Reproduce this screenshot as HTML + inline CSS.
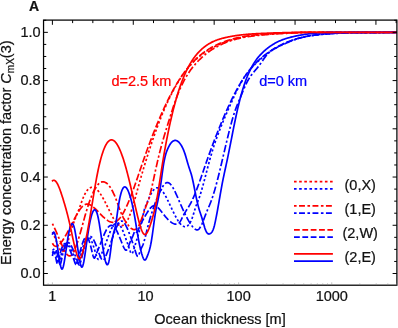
<!DOCTYPE html>
<html><head><meta charset="utf-8"><title>Energy concentration factor</title>
<style>
html,body{margin:0;padding:0;background:#fff;}
body{width:398px;height:328px;overflow:hidden;position:relative;font-family:"Liberation Sans",sans-serif;}
</style></head><body>
<svg width="398" height="328" viewBox="0 0 398 328" style="position:absolute;left:0;top:0;transform:translateZ(0);will-change:transform">
<rect width="398" height="328" fill="#fff"/>
<defs><clipPath id="cp"><rect x="43.5" y="20.1" width="353.3" height="265.1"/></clipPath></defs>
<g clip-path="url(#cp)" fill="none" stroke-width="1.7" stroke-linejoin="round">
<path d="M52.40,253.00 L52.90,252.03 L53.40,251.23 L53.90,250.70 L54.40,250.55 L54.90,250.89 L55.40,251.82 L55.90,253.35 L56.40,255.34 L56.90,257.56 L57.40,259.83 L57.90,261.93 L58.40,263.42 L58.90,263.76 L59.40,262.83 L59.90,261.10 L60.40,258.96 L60.90,256.61 L61.40,254.22 L61.90,251.97 L62.40,250.00 L62.90,248.30 L63.40,246.86 L63.90,245.68 L64.40,244.74 L64.90,244.02 L65.40,243.52 L65.90,243.22 L66.40,243.11 L66.90,243.18 L67.40,243.41 L67.90,243.79 L68.40,244.31 L68.90,244.95 L69.40,245.71 L69.90,246.57 L70.40,247.52 L70.90,248.54 L71.40,249.63 L71.90,250.79 L72.40,252.00 L72.90,253.27 L73.40,254.57 L73.90,255.92 L74.40,257.29 L74.90,258.69 L75.40,260.08 L75.90,261.43 L76.40,262.70 L76.90,263.84 L77.40,264.66 L77.90,264.70 L78.40,263.77 L78.90,262.26 L79.40,260.55 L79.90,258.73 L80.40,256.82 L80.90,254.87 L81.40,252.90 L81.90,250.94 L82.40,249.04 L82.90,247.22 L83.40,245.51 L83.90,243.93 L84.40,242.48 L84.90,241.19 L85.40,240.05 L85.90,239.08 L86.40,238.29 L86.90,237.69 L87.40,237.27 L87.90,237.06 L88.40,237.04 L88.90,237.20 L89.40,237.55 L89.90,238.06 L90.40,238.75 L90.90,239.59 L91.40,240.60 L91.90,241.75 L92.40,243.03 L92.90,244.42 L93.40,245.91 L93.90,247.47 L94.40,249.08 L94.90,250.73 L95.40,252.39 L95.90,254.05 L96.40,255.65 L96.90,257.11 L97.40,258.30 L97.90,259.12 L98.40,259.46 L98.90,259.26 L99.40,258.63 L99.90,257.69 L100.40,256.56 L100.90,255.36 L101.40,254.17 L101.90,252.99 L102.40,251.81 L102.90,250.62 L103.40,249.43 L103.90,248.21 L104.40,246.97 L104.90,245.70 L105.40,244.40 L105.90,243.07 L106.40,241.71 L106.90,240.34 L107.40,238.97 L107.90,237.60 L108.40,236.24 L108.90,234.91 L109.40,233.60 L109.90,232.34 L110.40,231.13 L110.90,229.97 L111.40,228.88 L111.90,227.87 L112.40,226.94 L112.90,226.10 L113.40,225.37 L113.90,224.74 L114.40,224.22 L114.90,223.80 L115.40,223.48 L115.90,223.26 L116.40,223.15 L116.90,223.14 L117.40,223.24 L117.90,223.43 L118.40,223.73 L118.90,224.13 L119.40,224.63 L119.90,225.23 L120.40,225.94 L120.90,226.74 L121.40,227.64 L121.90,228.64 L122.40,229.73 L122.90,230.89 L123.40,232.12 L123.90,233.39 L124.40,234.72 L124.90,236.07 L125.40,237.45 L125.90,238.84 L126.40,240.25 L126.90,241.66 L127.40,243.09 L127.90,244.53 L128.40,245.98 L128.90,247.44 L129.40,248.92 L129.90,250.39 L130.40,251.78 L130.90,252.90 L131.40,253.58 L131.90,253.66 L132.40,253.11 L132.90,252.07 L133.40,250.71 L133.90,249.18 L134.40,247.58 L134.90,245.93 L135.40,244.25 L135.90,242.55 L136.40,240.85 L136.90,239.15 L137.40,237.47 L137.90,235.84 L138.40,234.23 L138.90,232.63 L139.40,231.01 L139.90,229.32 L140.40,227.53 L140.90,225.60 L141.40,223.51 L141.90,221.22 L142.40,218.73 L142.90,216.18 L143.40,213.71 L143.90,211.45 L144.40,209.51 L144.90,207.90 L145.40,206.51 L145.90,205.29 L146.40,204.13 L146.90,202.99 L147.40,201.82 L147.90,200.66 L148.40,199.50 L148.90,198.35 L149.40,197.23 L149.90,196.15 L150.40,195.10 L150.90,194.11 L151.40,193.18 L151.90,192.33 L152.40,191.54 L152.90,190.84 L153.40,190.20 L153.90,189.64 L154.40,189.16 L154.90,188.74 L155.40,188.40 L155.90,188.14 L156.40,187.94 L156.90,187.82 L157.40,187.77 L157.90,187.79 L158.40,187.88 L158.90,188.04 L159.40,188.28 L159.90,188.58 L160.40,188.95 L160.90,189.39 L161.40,189.90 L161.90,190.46 L162.40,191.07 L162.90,191.74 L163.40,192.46 L163.90,193.23 L164.40,194.04 L164.90,194.88 L165.40,195.77 L165.90,196.68 L166.40,197.63 L166.90,198.60 L167.40,199.60 L167.90,200.61 L168.40,201.64 L168.90,202.68 L169.40,203.73 L169.90,204.79 L170.40,205.85 L170.90,206.91 L171.40,207.97 L171.90,209.02 L172.40,210.07 L172.90,211.11 L173.40,212.13 L173.90,213.14 L174.40,214.13 L174.90,215.11 L175.40,216.06 L175.90,216.99 L176.40,217.89 L176.90,218.76 L177.40,219.60 L177.90,220.41 L178.40,221.18 L178.90,221.91 L179.40,222.60 L179.90,223.24 L180.40,223.84 L180.90,224.39 L181.40,224.89 L181.90,225.34 L182.40,225.73 L182.90,226.06 L183.40,226.33 L183.90,226.53 L184.40,226.67 L184.90,226.74 L185.40,226.73 L185.90,226.65 L186.40,226.49 L186.90,226.25 L187.40,225.92 L187.90,225.51 L188.40,225.00 L188.90,224.40 L189.40,223.71 L189.90,222.92 L190.40,222.02 L190.90,221.02 L191.40,219.92 L191.90,218.70 L192.40,217.37 L192.90,215.93 L193.40,214.37 L193.90,212.74 L194.40,211.08 L194.90,209.43 L195.40,207.83 L195.90,206.33 L196.40,204.97 L196.90,203.71 L197.40,202.51 L197.90,201.30 L198.40,200.04 L198.90,198.69 L199.40,197.27 L199.90,195.79 L200.40,194.23 L200.90,192.62 L201.40,190.96 L201.90,189.25 L202.40,187.49 L202.90,185.70 L203.40,183.87 L203.90,182.01 L204.40,180.13 L204.90,178.23 L205.40,176.32 L205.90,174.40 L206.40,172.48 L206.90,170.56 L207.40,168.64 L207.90,166.74 L208.40,164.86 L208.90,162.99 L209.40,161.16 L209.90,159.35 L210.40,157.58 L210.90,155.85 L211.40,154.15 L211.90,152.48 L212.40,150.84 L212.90,149.23 L213.40,147.65 L213.90,146.10 L214.40,144.57 L214.90,143.07 L215.40,141.60 L215.90,140.15 L216.40,138.73 L216.90,137.33 L217.40,135.95 L217.90,134.59 L218.40,133.25 L218.90,131.93 L219.40,130.63 L219.90,129.34 L220.40,128.07 L220.90,126.82 L221.40,125.58 L221.90,124.36 L222.40,123.14 L222.90,121.94 L223.40,120.75 L223.90,119.56 L224.40,118.39 L224.90,117.23 L225.40,116.07 L225.90,114.91 L226.40,113.76 L226.90,112.62 L227.40,111.48 L227.90,110.34 L228.40,109.20 L228.90,108.06 L229.40,106.93 L229.90,105.79 L230.40,104.66 L230.90,103.54 L231.40,102.42 L231.90,101.30 L232.40,100.19 L232.90,99.08 L233.40,97.99 L233.90,96.90 L234.40,95.82 L234.90,94.75 L235.40,93.68 L235.90,92.63 L236.40,91.60 L236.90,90.57 L237.40,89.56 L237.90,88.56 L238.40,87.58 L238.90,86.61 L239.40,85.65 L239.90,84.72 L240.40,83.80 L240.90,82.90 L241.40,82.01 L241.90,81.15 L242.40,80.31 L242.90,79.49 L243.40,78.68 L243.90,77.90 L244.40,77.13 L244.90,76.38 L245.40,75.65 L245.90,74.94 L246.40,74.24 L246.90,73.56 L247.40,72.89 L247.90,72.24 L248.40,71.60 L248.90,70.98 L249.40,70.37 L249.90,69.77 L250.40,69.18 L250.90,68.61 L251.40,68.04 L251.90,67.49 L252.40,66.94 L252.90,66.41 L253.40,65.88 L253.90,65.36 L254.40,64.85 L254.90,64.35 L255.40,63.85 L255.90,63.36 L256.40,62.88 L256.90,62.40 L257.40,61.93 L257.90,61.46 L258.40,61.00 L258.90,60.54 L259.40,60.09 L259.90,59.64 L260.40,59.20 L260.90,58.76 L261.40,58.33 L261.90,57.91 L262.40,57.49 L262.90,57.07 L263.40,56.66 L263.90,56.25 L264.40,55.85 L264.90,55.46 L265.40,55.07 L265.90,54.68 L266.40,54.30 L266.90,53.92 L267.40,53.55 L267.90,53.19 L268.40,52.82 L268.90,52.47 L269.40,52.11 L269.90,51.77 L270.40,51.42 L270.90,51.08 L271.40,50.75 L271.90,50.42 L272.40,50.09 L272.90,49.77 L273.40,49.45 L273.90,49.14 L274.40,48.83 L274.90,48.53 L275.40,48.23 L275.90,47.94 L276.40,47.64 L276.90,47.36 L277.40,47.07 L277.90,46.80 L278.40,46.52 L278.90,46.25 L279.40,45.98 L279.90,45.72 L280.40,45.46 L280.90,45.21 L281.40,44.95 L281.90,44.71 L282.40,44.46 L282.90,44.22 L283.40,43.99 L283.90,43.75 L284.40,43.52 L284.90,43.30 L285.40,43.08 L285.90,42.86 L286.40,42.64 L286.90,42.43 L287.40,42.23 L287.90,42.02 L288.40,41.82 L288.90,41.62 L289.40,41.43 L289.90,41.24 L290.40,41.05 L290.90,40.86 L291.40,40.68 L291.90,40.50 L292.40,40.33 L292.90,40.15 L293.40,39.99 L293.90,39.82 L294.40,39.66 L294.90,39.50 L295.40,39.34 L295.90,39.18 L296.40,39.03 L296.90,38.88 L297.40,38.74 L297.90,38.59 L298.40,38.45 L298.90,38.31 L299.40,38.18 L299.90,38.04 L300.40,37.91 L300.90,37.79 L301.40,37.66 L301.90,37.54 L302.40,37.42 L302.90,37.30 L303.40,37.18 L303.90,37.07 L304.40,36.96 L304.90,36.85 L305.40,36.74 L305.90,36.64 L306.40,36.53 L306.90,36.43 L307.40,36.34 L307.90,36.24 L308.40,36.14 L308.90,36.05 L309.40,35.96 L309.90,35.87 L310.40,35.79 L310.90,35.70 L311.40,35.62 L311.90,35.54 L312.40,35.46 L312.90,35.38 L313.40,35.31 L313.90,35.23 L314.40,35.16 L314.90,35.09 L315.40,35.02 L315.90,34.95 L316.40,34.88 L316.90,34.82 L317.40,34.76 L317.90,34.69 L318.40,34.63 L318.90,34.57 L319.40,34.51 L319.90,34.46 L320.40,34.40 L320.90,34.35 L321.40,34.29 L321.90,34.24 L322.40,34.19 L322.90,34.14 L323.40,34.09 L323.90,34.04 L324.40,34.00 L324.90,33.95 L325.40,33.90 L325.90,33.86 L326.40,33.82 L326.90,33.78 L327.40,33.74 L327.90,33.70 L328.40,33.66 L328.90,33.62 L329.40,33.58 L329.90,33.55 L330.40,33.51 L330.90,33.48 L331.40,33.44 L331.90,33.41 L332.40,33.38 L332.90,33.35 L333.40,33.32 L333.90,33.29 L334.40,33.26 L334.90,33.23 L335.40,33.21 L335.90,33.18 L336.40,33.16 L336.90,33.13 L337.40,33.11 L337.90,33.09 L338.40,33.06 L338.90,33.04 L339.40,33.02 L339.90,33.00 L340.40,32.98 L340.90,32.96 L341.40,32.95 L341.90,32.93 L342.40,32.91 L342.90,32.90 L343.40,32.88 L343.90,32.87 L344.40,32.85 L344.90,32.84 L345.40,32.83 L345.90,32.81 L346.40,32.80 L346.90,32.79 L347.40,32.78 L347.90,32.77 L348.40,32.76 L348.90,32.75 L349.40,32.74 L349.90,32.73 L350.40,32.72 L350.90,32.71 L351.40,32.71 L351.90,32.70 L352.40,32.69 L352.90,32.69 L353.40,32.68 L353.90,32.68 L354.40,32.67 L354.90,32.67 L355.40,32.66 L355.90,32.66 L356.40,32.65 L356.90,32.65 L357.40,32.65 L357.90,32.64 L358.40,32.64 L358.90,32.64 L359.40,32.64 L359.90,32.63 L360.40,32.63 L360.90,32.63 L361.40,32.63 L361.90,32.63 L362.40,32.63 L362.90,32.62 L363.40,32.62 L363.90,32.62 L364.40,32.62 L364.90,32.62 L365.40,32.62 L365.90,32.62 L366.40,32.62 L366.90,32.62 L367.40,32.62 L367.90,32.62 L368.40,32.62 L368.90,32.62 L369.40,32.62 L369.90,32.62 L370.40,32.62 L370.90,32.62 L371.40,32.61 L371.90,32.61 L372.40,32.61 L372.90,32.61 L373.40,32.61 L373.90,32.61 L374.40,32.61 L374.90,32.61 L375.40,32.61 L375.90,32.60 L376.40,32.60 L376.90,32.60 L377.40,32.60 L377.90,32.59 L378.40,32.59 L378.90,32.59 L379.40,32.59 L379.90,32.58 L380.40,32.58 L380.90,32.57 L381.40,32.57 L381.90,32.56 L382.40,32.56 L382.90,32.55 L383.40,32.55 L383.90,32.54 L384.40,32.53 L384.90,32.53 L385.40,32.52 L385.90,32.51 L386.40,32.50 L386.90,32.50 L387.40,32.49 L387.90,32.48 L388.40,32.47 L388.90,32.46 L389.40,32.44 L389.90,32.43 L390.40,32.42 L390.90,32.41 L391.40,32.39 L391.90,32.38 L392.40,32.37 L392.90,32.35 L393.40,32.35 L393.90,32.35 L394.40,32.35 L394.90,32.35 L395.40,32.35 L395.90,32.35 L396.40,32.35 L396.90,32.35" stroke="#0000ff" stroke-dasharray="2.2 2.2"/>
<path d="M52.40,232.15 L52.90,233.07 L53.40,234.10 L53.90,235.21 L54.40,236.40 L54.90,237.63 L55.40,238.91 L55.90,240.20 L56.40,241.50 L56.90,242.79 L57.40,244.05 L57.90,245.26 L58.40,246.42 L58.90,247.49 L59.40,248.48 L59.90,249.35 L60.40,250.10 L60.90,250.71 L61.40,251.15 L61.90,251.42 L62.40,251.50 L62.90,251.38 L63.40,251.05 L63.90,250.54 L64.40,249.85 L64.90,249.01 L65.40,248.02 L65.90,246.89 L66.40,245.65 L66.90,244.30 L67.40,242.87 L67.90,241.35 L68.40,239.78 L68.90,238.15 L69.40,236.48 L69.90,234.80 L70.40,233.10 L70.90,231.41 L71.40,229.74 L71.90,228.10 L72.40,226.50 L72.90,224.97 L73.40,223.50 L73.90,222.11 L74.40,220.78 L74.90,219.50 L75.40,218.25 L75.90,217.02 L76.40,215.81 L76.90,214.60 L77.40,213.37 L77.90,212.12 L78.40,210.84 L78.90,209.51 L79.40,208.14 L79.90,206.75 L80.40,205.34 L80.90,203.93 L81.40,202.52 L81.90,201.14 L82.40,199.80 L82.90,198.50 L83.40,197.27 L83.90,196.10 L84.40,195.02 L84.90,194.02 L85.40,193.10 L85.90,192.25 L86.40,191.47 L86.90,190.77 L87.40,190.13 L87.90,189.56 L88.40,189.06 L88.90,188.62 L89.40,188.24 L89.90,187.92 L90.40,187.66 L90.90,187.46 L91.40,187.33 L91.90,187.25 L92.40,187.23 L92.90,187.27 L93.40,187.37 L93.90,187.53 L94.40,187.74 L94.90,188.00 L95.40,188.31 L95.90,188.68 L96.40,189.09 L96.90,189.54 L97.40,190.04 L97.90,190.59 L98.40,191.17 L98.90,191.79 L99.40,192.45 L99.90,193.14 L100.40,193.87 L100.90,194.63 L101.40,195.42 L101.90,196.24 L102.40,197.09 L102.90,197.96 L103.40,198.85 L103.90,199.77 L104.40,200.71 L104.90,201.66 L105.40,202.63 L105.90,203.62 L106.40,204.62 L106.90,205.63 L107.40,206.65 L107.90,207.67 L108.40,208.69 L108.90,209.72 L109.40,210.74 L109.90,211.75 L110.40,212.75 L110.90,213.74 L111.40,214.71 L111.90,215.66 L112.40,216.58 L112.90,217.48 L113.40,218.36 L113.90,219.19 L114.40,220.00 L114.90,220.76 L115.40,221.48 L115.90,222.15 L116.40,222.78 L116.90,223.36 L117.40,223.88 L117.90,224.34 L118.40,224.74 L118.90,225.08 L119.40,225.35 L119.90,225.56 L120.40,225.69 L120.90,225.77 L121.40,225.77 L121.90,225.70 L122.40,225.57 L122.90,225.37 L123.40,225.09 L123.90,224.75 L124.40,224.33 L124.90,223.84 L125.40,223.28 L125.90,222.64 L126.40,221.93 L126.90,221.14 L127.40,220.28 L127.90,219.34 L128.40,218.33 L128.90,217.24 L129.40,216.07 L129.90,214.82 L130.40,213.50 L130.90,212.11 L131.40,210.66 L131.90,209.14 L132.40,207.58 L132.90,205.97 L133.40,204.31 L133.90,202.61 L134.40,200.88 L134.90,199.13 L135.40,197.35 L135.90,195.55 L136.40,193.74 L136.90,191.92 L137.40,190.10 L137.90,188.28 L138.40,186.47 L138.90,184.67 L139.40,182.88 L139.90,181.10 L140.40,179.34 L140.90,177.59 L141.40,175.85 L141.90,174.12 L142.40,172.41 L142.90,170.71 L143.40,169.02 L143.90,167.34 L144.40,165.67 L144.90,164.02 L145.40,162.38 L145.90,160.75 L146.40,159.14 L146.90,157.54 L147.40,155.94 L147.90,154.37 L148.40,152.80 L148.90,151.25 L149.40,149.71 L149.90,148.18 L150.40,146.66 L150.90,145.16 L151.40,143.66 L151.90,142.18 L152.40,140.72 L152.90,139.26 L153.40,137.82 L153.90,136.39 L154.40,134.97 L154.90,133.57 L155.40,132.17 L155.90,130.79 L156.40,129.43 L156.90,128.07 L157.40,126.73 L157.90,125.40 L158.40,124.08 L158.90,122.77 L159.40,121.48 L159.90,120.20 L160.40,118.93 L160.90,117.67 L161.40,116.43 L161.90,115.20 L162.40,113.98 L162.90,112.77 L163.40,111.58 L163.90,110.40 L164.40,109.23 L164.90,108.07 L165.40,106.92 L165.90,105.79 L166.40,104.67 L166.90,103.57 L167.40,102.47 L167.90,101.39 L168.40,100.32 L168.90,99.26 L169.40,98.22 L169.90,97.18 L170.40,96.16 L170.90,95.16 L171.40,94.16 L171.90,93.18 L172.40,92.21 L172.90,91.25 L173.40,90.30 L173.90,89.37 L174.40,88.45 L174.90,87.54 L175.40,86.65 L175.90,85.76 L176.40,84.89 L176.90,84.04 L177.40,83.19 L177.90,82.36 L178.40,81.54 L178.90,80.73 L179.40,79.93 L179.90,79.14 L180.40,78.37 L180.90,77.61 L181.40,76.85 L181.90,76.11 L182.40,75.39 L182.90,74.67 L183.40,73.96 L183.90,73.27 L184.40,72.58 L184.90,71.91 L185.40,71.24 L185.90,70.59 L186.40,69.94 L186.90,69.31 L187.40,68.69 L187.90,68.07 L188.40,67.47 L188.90,66.88 L189.40,66.29 L189.90,65.72 L190.40,65.15 L190.90,64.60 L191.40,64.05 L191.90,63.51 L192.40,62.98 L192.90,62.46 L193.40,61.95 L193.90,61.44 L194.40,60.95 L194.90,60.46 L195.40,59.98 L195.90,59.51 L196.40,59.05 L196.90,58.59 L197.40,58.15 L197.90,57.71 L198.40,57.28 L198.90,56.85 L199.40,56.43 L199.90,56.02 L200.40,55.62 L200.90,55.22 L201.40,54.83 L201.90,54.45 L202.40,54.07 L202.90,53.70 L203.40,53.34 L203.90,52.98 L204.40,52.63 L204.90,52.28 L205.40,51.94 L205.90,51.61 L206.40,51.28 L206.90,50.96 L207.40,50.64 L207.90,50.33 L208.40,50.02 L208.90,49.72 L209.40,49.42 L209.90,49.13 L210.40,48.84 L210.90,48.56 L211.40,48.28 L211.90,48.01 L212.40,47.74 L212.90,47.47 L213.40,47.21 L213.90,46.95 L214.40,46.70 L214.90,46.45 L215.40,46.20 L215.90,45.96 L216.40,45.72 L216.90,45.48 L217.40,45.25 L217.90,45.02 L218.40,44.79 L218.90,44.57 L219.40,44.35 L219.90,44.13 L220.40,43.91 L220.90,43.70 L221.40,43.50 L221.90,43.29 L222.40,43.09 L222.90,42.89 L223.40,42.70 L223.90,42.51 L224.40,42.32 L224.90,42.13 L225.40,41.95 L225.90,41.77 L226.40,41.59 L226.90,41.42 L227.40,41.25 L227.90,41.08 L228.40,40.91 L228.90,40.75 L229.40,40.59 L229.90,40.43 L230.40,40.27 L230.90,40.12 L231.40,39.97 L231.90,39.82 L232.40,39.68 L232.90,39.54 L233.40,39.40 L233.90,39.26 L234.40,39.12 L234.90,38.99 L235.40,38.86 L235.90,38.73 L236.40,38.61 L236.90,38.48 L237.40,38.36 L237.90,38.24 L238.40,38.13 L238.90,38.01 L239.40,37.90 L239.90,37.79 L240.40,37.68 L240.90,37.57 L241.40,37.47 L241.90,37.37 L242.40,37.26 L242.90,37.17 L243.40,37.07 L243.90,36.97 L244.40,36.88 L244.90,36.79 L245.40,36.70 L245.90,36.61 L246.40,36.53 L246.90,36.44 L247.40,36.36 L247.90,36.28 L248.40,36.20 L248.90,36.12 L249.40,36.04 L249.90,35.97 L250.40,35.89 L250.90,35.82 L251.40,35.75 L251.90,35.68 L252.40,35.61 L252.90,35.55 L253.40,35.48 L253.90,35.42 L254.40,35.35 L254.90,35.29 L255.40,35.23 L255.90,35.17 L256.40,35.11 L256.90,35.06 L257.40,35.00 L257.90,34.95 L258.40,34.89 L258.90,34.84 L259.40,34.79 L259.90,34.73 L260.40,34.68 L260.90,34.63 L261.40,34.59 L261.90,34.54 L262.40,34.49 L262.90,34.44 L263.40,34.40 L263.90,34.35 L264.40,34.31 L264.90,34.27 L265.40,34.22 L265.90,34.18 L266.40,34.14 L266.90,34.10 L267.40,34.06 L267.90,34.02 L268.40,33.98 L268.90,33.94 L269.40,33.90 L269.90,33.86 L270.40,33.82 L270.90,33.79 L271.40,33.75 L271.90,33.71 L272.40,33.68 L272.90,33.64 L273.40,33.61 L273.90,33.58 L274.40,33.54 L274.90,33.51 L275.40,33.48 L275.90,33.45 L276.40,33.42 L276.90,33.39 L277.40,33.36 L277.90,33.33 L278.40,33.30 L278.90,33.27 L279.40,33.24 L279.90,33.21 L280.40,33.19 L280.90,33.16 L281.40,33.13 L281.90,33.11 L282.40,33.08 L282.90,33.06 L283.40,33.03 L283.90,33.01 L284.40,32.99 L284.90,32.96 L285.40,32.94 L285.90,32.92 L286.40,32.90 L286.90,32.88 L287.40,32.86 L287.90,32.84 L288.40,32.82 L288.90,32.80 L289.40,32.78 L289.90,32.76 L290.40,32.74 L290.90,32.72 L291.40,32.71 L291.90,32.69 L292.40,32.67 L292.90,32.66 L293.40,32.64 L293.90,32.63 L294.40,32.61 L294.90,32.60 L295.40,32.58 L295.90,32.57 L296.40,32.55 L296.90,32.54 L297.40,32.53 L297.90,32.52 L298.40,32.50 L298.90,32.49 L299.40,32.48 L299.90,32.47 L300.40,32.46 L300.90,32.45 L301.40,32.44 L301.90,32.43 L302.40,32.42 L302.90,32.41 L303.40,32.40 L303.90,32.39 L304.40,32.38 L304.90,32.38 L305.40,32.37 L305.90,32.36 L306.40,32.36 L306.90,32.35 L307.40,32.35 L307.90,32.35 L308.40,32.35 L308.90,32.35 L309.40,32.35 L309.90,32.35 L310.40,32.35 L310.90,32.35 L311.40,32.35 L311.90,32.35 L312.40,32.35 L312.90,32.35 L313.40,32.35 L313.90,32.35 L314.40,32.35 L314.90,32.35 L315.40,32.35 L315.90,32.35 L316.40,32.35 L316.90,32.35 L317.40,32.35 L317.90,32.35 L318.40,32.35 L318.90,32.35 L319.40,32.35 L319.90,32.35 L320.40,32.35 L320.90,32.35 L321.40,32.35 L321.90,32.35 L322.40,32.35 L322.90,32.35 L323.40,32.35 L323.90,32.35 L324.40,32.35 L324.90,32.35 L325.40,32.35 L325.90,32.35 L326.40,32.35 L326.90,32.35 L327.40,32.35 L327.90,32.35 L328.40,32.35 L328.90,32.35 L329.40,32.35 L329.90,32.35 L330.40,32.35 L330.90,32.35 L331.40,32.35 L331.90,32.35 L332.40,32.35 L332.90,32.35 L333.40,32.35 L333.90,32.35 L334.40,32.35 L334.90,32.35 L335.40,32.35 L335.90,32.35 L336.40,32.35 L336.90,32.35 L337.40,32.35 L337.90,32.35 L338.40,32.35 L338.90,32.35 L339.40,32.35 L339.90,32.35 L340.40,32.35 L340.90,32.35 L341.40,32.35 L341.90,32.35 L342.40,32.35 L342.90,32.35 L343.40,32.35 L343.90,32.35 L344.40,32.35 L344.90,32.35 L345.40,32.35 L345.90,32.35 L346.40,32.35 L346.90,32.35 L347.40,32.35 L347.90,32.35 L348.40,32.35 L348.90,32.35 L349.40,32.35 L349.90,32.35 L350.40,32.35 L350.90,32.35 L351.40,32.35 L351.90,32.35 L352.40,32.35 L352.90,32.35 L353.40,32.35 L353.90,32.35 L354.40,32.35 L354.90,32.35 L355.40,32.35 L355.90,32.35 L356.40,32.35 L356.90,32.35 L357.40,32.35 L357.90,32.35 L358.40,32.35 L358.90,32.35 L359.40,32.35 L359.90,32.35 L360.40,32.35 L360.90,32.35 L361.40,32.35 L361.90,32.35 L362.40,32.35 L362.90,32.35 L363.40,32.35 L363.90,32.35 L364.40,32.35 L364.90,32.35 L365.40,32.35 L365.90,32.35 L366.40,32.35 L366.90,32.35 L367.40,32.35 L367.90,32.35 L368.40,32.35 L368.90,32.35 L369.40,32.35 L369.90,32.35 L370.40,32.35 L370.90,32.35 L371.40,32.35 L371.90,32.35 L372.40,32.35 L372.90,32.35 L373.40,32.35 L373.90,32.35 L374.40,32.35 L374.90,32.35 L375.40,32.35 L375.90,32.35 L376.40,32.35 L376.90,32.35 L377.40,32.35 L377.90,32.35 L378.40,32.35 L378.90,32.35 L379.40,32.35 L379.90,32.35 L380.40,32.35 L380.90,32.35 L381.40,32.35 L381.90,32.35 L382.40,32.35 L382.90,32.35 L383.40,32.35 L383.90,32.35 L384.40,32.35 L384.90,32.35 L385.40,32.35 L385.90,32.35 L386.40,32.35 L386.90,32.35 L387.40,32.35 L387.90,32.35 L388.40,32.35 L388.90,32.35 L389.40,32.35 L389.90,32.35 L390.40,32.35 L390.90,32.35 L391.40,32.35 L391.90,32.35 L392.40,32.35 L392.90,32.35 L393.40,32.35 L393.90,32.35 L394.40,32.35 L394.90,32.35 L395.40,32.35 L395.90,32.35 L396.40,32.35 L396.90,32.35" stroke="#ff0000" stroke-dasharray="2.2 2.2"/>
<path d="M52.40,250.00 L52.90,249.83 L53.40,249.55 L53.90,249.25 L54.40,249.02 L54.90,248.97 L55.40,249.19 L55.90,249.77 L56.40,250.80 L56.90,252.28 L57.40,254.15 L57.90,256.38 L58.40,258.89 L58.90,261.35 L59.40,263.32 L59.90,264.36 L60.40,264.09 L60.90,262.69 L61.40,260.53 L61.90,258.03 L62.40,255.56 L62.90,253.32 L63.40,251.31 L63.90,249.52 L64.40,247.96 L64.90,246.61 L65.40,245.47 L65.90,244.53 L66.40,243.78 L66.90,243.23 L67.40,242.87 L67.90,242.69 L68.40,242.68 L68.90,242.84 L69.40,243.17 L69.90,243.65 L70.40,244.29 L70.90,245.08 L71.40,246.01 L71.90,247.05 L72.40,248.19 L72.90,249.41 L73.40,250.69 L73.90,252.00 L74.40,253.34 L74.90,254.68 L75.40,255.99 L75.90,257.31 L76.40,258.65 L76.90,260.03 L77.40,261.49 L77.90,262.93 L78.40,264.12 L78.90,264.85 L79.40,264.90 L79.90,264.16 L80.40,262.81 L80.90,261.04 L81.40,259.07 L81.90,257.06 L82.40,255.08 L82.90,253.13 L83.40,251.22 L83.90,249.36 L84.40,247.57 L84.90,245.85 L85.40,244.24 L85.90,242.73 L86.40,241.36 L86.90,240.13 L87.40,239.07 L87.90,238.18 L88.40,237.49 L88.90,236.99 L89.40,236.66 L89.90,236.51 L90.40,236.51 L90.90,236.67 L91.40,236.97 L91.90,237.41 L92.40,237.98 L92.90,238.67 L93.40,239.46 L93.90,240.36 L94.40,241.36 L94.90,242.44 L95.40,243.60 L95.90,244.83 L96.40,246.11 L96.90,247.45 L97.40,248.81 L97.90,250.19 L98.40,251.57 L98.90,252.94 L99.40,254.27 L99.90,255.56 L100.40,256.78 L100.90,257.92 L101.40,258.91 L101.90,259.69 L102.40,260.21 L102.90,260.39 L103.40,260.22 L103.90,259.72 L104.40,258.96 L104.90,258.01 L105.40,256.93 L105.90,255.79 L106.40,254.61 L106.90,253.38 L107.40,252.11 L107.90,250.81 L108.40,249.48 L108.90,248.13 L109.40,246.74 L109.90,245.34 L110.40,243.93 L110.90,242.50 L111.40,241.07 L111.90,239.63 L112.40,238.19 L112.90,236.76 L113.40,235.34 L113.90,233.94 L114.40,232.56 L114.90,231.20 L115.40,229.90 L115.90,228.64 L116.40,227.44 L116.90,226.31 L117.40,225.27 L117.90,224.32 L118.40,223.46 L118.90,222.72 L119.40,222.10 L119.90,221.61 L120.40,221.26 L120.90,221.06 L121.40,220.99 L121.90,221.05 L122.40,221.24 L122.90,221.55 L123.40,221.97 L123.90,222.50 L124.40,223.13 L124.90,223.86 L125.40,224.67 L125.90,225.57 L126.40,226.55 L126.90,227.59 L127.40,228.71 L127.90,229.88 L128.40,231.10 L128.90,232.37 L129.40,233.68 L129.90,235.02 L130.40,236.39 L130.90,237.80 L131.40,239.23 L131.90,240.68 L132.40,242.16 L132.90,243.66 L133.40,245.19 L133.90,246.73 L134.40,248.28 L134.90,249.83 L135.40,251.38 L135.90,252.90 L136.40,254.35 L136.90,255.54 L137.40,256.28 L137.90,256.40 L138.40,255.81 L138.90,254.69 L139.40,253.27 L139.90,251.76 L140.40,250.33 L140.90,249.09 L141.40,248.05 L141.90,247.11 L142.40,246.13 L142.90,244.98 L143.40,243.61 L143.90,242.04 L144.40,240.30 L144.90,238.43 L145.40,236.46 L145.90,234.43 L146.40,232.36 L146.90,230.31 L147.40,228.28 L147.90,226.32 L148.40,224.42 L148.90,222.58 L149.40,220.79 L149.90,219.05 L150.40,217.36 L150.90,215.71 L151.40,214.11 L151.90,212.55 L152.40,211.02 L152.90,209.52 L153.40,208.06 L153.90,206.62 L154.40,205.22 L154.90,203.84 L155.40,202.49 L155.90,201.18 L156.40,199.90 L156.90,198.64 L157.40,197.42 L157.90,196.24 L158.40,195.08 L158.90,193.96 L159.40,192.87 L159.90,191.82 L160.40,190.80 L160.90,189.82 L161.40,188.87 L161.90,187.97 L162.40,187.12 L162.90,186.32 L163.40,185.59 L163.90,184.92 L164.40,184.33 L164.90,183.81 L165.40,183.37 L165.90,183.02 L166.40,182.76 L166.90,182.60 L167.40,182.55 L167.90,182.60 L168.40,182.74 L168.90,182.98 L169.40,183.30 L169.90,183.71 L170.40,184.20 L170.90,184.76 L171.40,185.39 L171.90,186.09 L172.40,186.86 L172.90,187.67 L173.40,188.55 L173.90,189.47 L174.40,190.43 L174.90,191.44 L175.40,192.48 L175.90,193.55 L176.40,194.65 L176.90,195.76 L177.40,196.90 L177.90,198.05 L178.40,199.21 L178.90,200.38 L179.40,201.54 L179.90,202.70 L180.40,203.85 L180.90,205.00 L181.40,206.14 L181.90,207.26 L182.40,208.38 L182.90,209.48 L183.40,210.57 L183.90,211.65 L184.40,212.71 L184.90,213.75 L185.40,214.77 L185.90,215.78 L186.40,216.76 L186.90,217.72 L187.40,218.66 L187.90,219.57 L188.40,220.45 L188.90,221.31 L189.40,222.14 L189.90,222.94 L190.40,223.71 L190.90,224.45 L191.40,225.15 L191.90,225.82 L192.40,226.45 L192.90,227.05 L193.40,227.61 L193.90,228.12 L194.40,228.59 L194.90,229.00 L195.40,229.35 L195.90,229.62 L196.40,229.80 L196.90,229.88 L197.40,229.86 L197.90,229.73 L198.40,229.46 L198.90,229.07 L199.40,228.53 L199.90,227.85 L200.40,227.05 L200.90,226.14 L201.40,225.13 L201.90,224.04 L202.40,222.88 L202.90,221.66 L203.40,220.40 L203.90,219.10 L204.40,217.78 L204.90,216.46 L205.40,215.15 L205.90,213.86 L206.40,212.59 L206.90,211.37 L207.40,210.17 L207.90,208.99 L208.40,207.82 L208.90,206.65 L209.40,205.46 L209.90,204.25 L210.40,203.00 L210.90,201.72 L211.40,200.38 L211.90,198.98 L212.40,197.52 L212.90,196.00 L213.40,194.42 L213.90,192.80 L214.40,191.12 L214.90,189.40 L215.40,187.63 L215.90,185.82 L216.40,183.97 L216.90,182.08 L217.40,180.16 L217.90,178.21 L218.40,176.23 L218.90,174.22 L219.40,172.18 L219.90,170.13 L220.40,168.06 L220.90,165.96 L221.40,163.86 L221.90,161.75 L222.40,159.62 L222.90,157.49 L223.40,155.36 L223.90,153.22 L224.40,151.09 L224.90,148.96 L225.40,146.84 L225.90,144.73 L226.40,142.63 L226.90,140.54 L227.40,138.48 L227.90,136.43 L228.40,134.40 L228.90,132.40 L229.40,130.43 L229.90,128.48 L230.40,126.57 L230.90,124.70 L231.40,122.86 L231.90,121.06 L232.40,119.31 L232.90,117.60 L233.40,115.94 L233.90,114.33 L234.40,112.77 L234.90,111.27 L235.40,109.83 L235.90,108.44 L236.40,107.11 L236.90,105.82 L237.40,104.56 L237.90,103.33 L238.40,102.12 L238.90,100.92 L239.40,99.73 L239.90,98.53 L240.40,97.33 L240.90,96.11 L241.40,94.89 L241.90,93.66 L242.40,92.44 L242.90,91.22 L243.40,90.02 L243.90,88.83 L244.40,87.67 L244.90,86.54 L245.40,85.43 L245.90,84.37 L246.40,83.34 L246.90,82.36 L247.40,81.42 L247.90,80.52 L248.40,79.66 L248.90,78.83 L249.40,78.03 L249.90,77.27 L250.40,76.53 L250.90,75.81 L251.40,75.12 L251.90,74.45 L252.40,73.80 L252.90,73.16 L253.40,72.54 L253.90,71.92 L254.40,71.32 L254.90,70.72 L255.40,70.12 L255.90,69.53 L256.40,68.93 L256.90,68.34 L257.40,67.73 L257.90,67.12 L258.40,66.50 L258.90,65.86 L259.40,65.21 L259.90,64.54 L260.40,63.85 L260.90,63.15 L261.40,62.44 L261.90,61.72 L262.40,60.99 L262.90,60.26 L263.40,59.54 L263.90,58.82 L264.40,58.11 L264.90,57.41 L265.40,56.73 L265.90,56.07 L266.40,55.44 L266.90,54.83 L267.40,54.25 L267.90,53.71 L268.40,53.19 L268.90,52.70 L269.40,52.24 L269.90,51.81 L270.40,51.39 L270.90,51.00 L271.40,50.63 L271.90,50.28 L272.40,49.95 L272.90,49.64 L273.40,49.33 L273.90,49.05 L274.40,48.77 L274.90,48.50 L275.40,48.24 L275.90,47.99 L276.40,47.74 L276.90,47.50 L277.40,47.26 L277.90,47.02 L278.40,46.78 L278.90,46.54 L279.40,46.30 L279.90,46.07 L280.40,45.83 L280.90,45.59 L281.40,45.35 L281.90,45.11 L282.40,44.88 L282.90,44.64 L283.40,44.41 L283.90,44.18 L284.40,43.94 L284.90,43.71 L285.40,43.49 L285.90,43.26 L286.40,43.03 L286.90,42.81 L287.40,42.59 L287.90,42.37 L288.40,42.15 L288.90,41.94 L289.40,41.72 L289.90,41.51 L290.40,41.31 L290.90,41.10 L291.40,40.90 L291.90,40.70 L292.40,40.51 L292.90,40.31 L293.40,40.13 L293.90,39.94 L294.40,39.76 L294.90,39.58 L295.40,39.40 L295.90,39.23 L296.40,39.07 L296.90,38.90 L297.40,38.75 L297.90,38.59 L298.40,38.44 L298.90,38.29 L299.40,38.15 L299.90,38.01 L300.40,37.87 L300.90,37.74 L301.40,37.61 L301.90,37.48 L302.40,37.36 L302.90,37.24 L303.40,37.12 L303.90,37.01 L304.40,36.90 L304.90,36.79 L305.40,36.69 L305.90,36.58 L306.40,36.48 L306.90,36.39 L307.40,36.29 L307.90,36.20 L308.40,36.11 L308.90,36.03 L309.40,35.94 L309.90,35.86 L310.40,35.78 L310.90,35.70 L311.40,35.63 L311.90,35.55 L312.40,35.48 L312.90,35.41 L313.40,35.34 L313.90,35.28 L314.40,35.21 L314.90,35.15 L315.40,35.09 L315.90,35.03 L316.40,34.97 L316.90,34.91 L317.40,34.86 L317.90,34.80 L318.40,34.75 L318.90,34.70 L319.40,34.65 L319.90,34.60 L320.40,34.55 L320.90,34.50 L321.40,34.45 L321.90,34.41 L322.40,34.36 L322.90,34.32 L323.40,34.27 L323.90,34.23 L324.40,34.19 L324.90,34.14 L325.40,34.10 L325.90,34.06 L326.40,34.02 L326.90,33.98 L327.40,33.94 L327.90,33.91 L328.40,33.87 L328.90,33.83 L329.40,33.80 L329.90,33.76 L330.40,33.73 L330.90,33.69 L331.40,33.66 L331.90,33.63 L332.40,33.59 L332.90,33.56 L333.40,33.53 L333.90,33.50 L334.40,33.47 L334.90,33.44 L335.40,33.41 L335.90,33.39 L336.40,33.36 L336.90,33.33 L337.40,33.31 L337.90,33.28 L338.40,33.26 L338.90,33.23 L339.40,33.21 L339.90,33.18 L340.40,33.16 L340.90,33.14 L341.40,33.12 L341.90,33.10 L342.40,33.07 L342.90,33.05 L343.40,33.03 L343.90,33.02 L344.40,33.00 L344.90,32.98 L345.40,32.96 L345.90,32.94 L346.40,32.93 L346.90,32.91 L347.40,32.89 L347.90,32.88 L348.40,32.86 L348.90,32.85 L349.40,32.83 L349.90,32.82 L350.40,32.80 L350.90,32.79 L351.40,32.78 L351.90,32.76 L352.40,32.75 L352.90,32.74 L353.40,32.73 L353.90,32.72 L354.40,32.71 L354.90,32.70 L355.40,32.69 L355.90,32.68 L356.40,32.67 L356.90,32.66 L357.40,32.65 L357.90,32.64 L358.40,32.63 L358.90,32.62 L359.40,32.61 L359.90,32.61 L360.40,32.60 L360.90,32.59 L361.40,32.58 L361.90,32.58 L362.40,32.57 L362.90,32.57 L363.40,32.56 L363.90,32.55 L364.40,32.55 L364.90,32.54 L365.40,32.54 L365.90,32.53 L366.40,32.53 L366.90,32.52 L367.40,32.52 L367.90,32.51 L368.40,32.51 L368.90,32.51 L369.40,32.50 L369.90,32.50 L370.40,32.49 L370.90,32.49 L371.40,32.49 L371.90,32.48 L372.40,32.48 L372.90,32.48 L373.40,32.47 L373.90,32.47 L374.40,32.47 L374.90,32.47 L375.40,32.46 L375.90,32.46 L376.40,32.46 L376.90,32.45 L377.40,32.45 L377.90,32.45 L378.40,32.45 L378.90,32.44 L379.40,32.44 L379.90,32.44 L380.40,32.44 L380.90,32.43 L381.40,32.43 L381.90,32.43 L382.40,32.43 L382.90,32.42 L383.40,32.42 L383.90,32.42 L384.40,32.42 L384.90,32.41 L385.40,32.41 L385.90,32.41 L386.40,32.40 L386.90,32.40 L387.40,32.40 L387.90,32.39 L388.40,32.39 L388.90,32.39 L389.40,32.38 L389.90,32.38 L390.40,32.37 L390.90,32.37 L391.40,32.36 L391.90,32.36 L392.40,32.36 L392.90,32.35 L393.40,32.35 L393.90,32.35 L394.40,32.35 L394.90,32.35 L395.40,32.35 L395.90,32.35 L396.40,32.35 L396.90,32.35" stroke="#0000ff" stroke-dasharray="2.2 2.3 7.5 2.3"/>
<path d="M52.40,223.74 L52.90,224.68 L53.40,225.66 L53.90,226.68 L54.40,227.73 L54.90,228.80 L55.40,229.90 L55.90,231.02 L56.40,232.16 L56.90,233.32 L57.40,234.49 L57.90,235.66 L58.40,236.84 L58.90,238.02 L59.40,239.21 L59.90,240.38 L60.40,241.55 L60.90,242.71 L61.40,243.86 L61.90,244.98 L62.40,246.09 L62.90,247.17 L63.40,248.23 L63.90,249.25 L64.40,250.23 L64.90,251.15 L65.40,252.02 L65.90,252.83 L66.40,253.56 L66.90,254.21 L67.40,254.77 L67.90,255.23 L68.40,255.58 L68.90,255.83 L69.40,255.95 L69.90,255.94 L70.40,255.80 L70.90,255.52 L71.40,255.11 L71.90,254.59 L72.40,253.94 L72.90,253.19 L73.40,252.33 L73.90,251.37 L74.40,250.31 L74.90,249.17 L75.40,247.95 L75.90,246.66 L76.40,245.29 L76.90,243.86 L77.40,242.37 L77.90,240.82 L78.40,239.23 L78.90,237.59 L79.40,235.92 L79.90,234.21 L80.40,232.47 L80.90,230.71 L81.40,228.93 L81.90,227.13 L82.40,225.33 L82.90,223.52 L83.40,221.72 L83.90,219.91 L84.40,218.13 L84.90,216.35 L85.40,214.60 L85.90,212.87 L86.40,211.18 L86.90,209.52 L87.40,207.90 L87.90,206.32 L88.40,204.79 L88.90,203.30 L89.40,201.85 L89.90,200.45 L90.40,199.10 L90.90,197.79 L91.40,196.53 L91.90,195.31 L92.40,194.15 L92.90,193.03 L93.40,191.96 L93.90,190.94 L94.40,189.98 L94.90,189.06 L95.40,188.20 L95.90,187.38 L96.40,186.62 L96.90,185.92 L97.40,185.27 L97.90,184.67 L98.40,184.13 L98.90,183.65 L99.40,183.22 L99.90,182.85 L100.40,182.54 L100.90,182.28 L101.40,182.08 L101.90,181.93 L102.40,181.84 L102.90,181.80 L103.40,181.82 L103.90,181.89 L104.40,182.01 L104.90,182.19 L105.40,182.42 L105.90,182.70 L106.40,183.04 L106.90,183.43 L107.40,183.86 L107.90,184.35 L108.40,184.89 L108.90,185.49 L109.40,186.13 L109.90,186.82 L110.40,187.56 L110.90,188.35 L111.40,189.19 L111.90,190.07 L112.40,191.01 L112.90,191.99 L113.40,193.02 L113.90,194.10 L114.40,195.22 L114.90,196.39 L115.40,197.61 L115.90,198.87 L116.40,200.18 L116.90,201.53 L117.40,202.91 L117.90,204.32 L118.40,205.74 L118.90,207.15 L119.40,208.55 L119.90,209.92 L120.40,211.24 L120.90,212.51 L121.40,213.72 L121.90,214.85 L122.40,215.91 L122.90,216.91 L123.40,217.85 L123.90,218.74 L124.40,219.59 L124.90,220.40 L125.40,221.17 L125.90,221.91 L126.40,222.63 L126.90,223.33 L127.40,224.01 L127.90,224.68 L128.40,225.33 L128.90,225.95 L129.40,226.53 L129.90,227.09 L130.40,227.60 L130.90,228.06 L131.40,228.47 L131.90,228.83 L132.40,229.13 L132.90,229.37 L133.40,229.53 L133.90,229.62 L134.40,229.63 L134.90,229.56 L135.40,229.40 L135.90,229.14 L136.40,228.79 L136.90,228.34 L137.40,227.78 L137.90,227.10 L138.40,226.31 L138.90,225.41 L139.40,224.40 L139.90,223.29 L140.40,222.11 L140.90,220.85 L141.40,219.52 L141.90,218.15 L142.40,216.73 L142.90,215.29 L143.40,213.82 L143.90,212.34 L144.40,210.87 L144.90,209.41 L145.40,207.97 L145.90,206.56 L146.40,205.20 L146.90,203.89 L147.40,202.64 L147.90,201.39 L148.40,200.06 L148.90,198.57 L149.40,196.94 L149.90,195.17 L150.40,193.28 L150.90,191.29 L151.40,189.20 L151.90,187.03 L152.40,184.79 L152.90,182.51 L153.40,180.19 L153.90,177.85 L154.40,175.51 L154.90,173.17 L155.40,170.85 L155.90,168.57 L156.40,166.32 L156.90,164.10 L157.40,161.93 L157.90,159.78 L158.40,157.67 L158.90,155.60 L159.40,153.57 L159.90,151.57 L160.40,149.62 L160.90,147.70 L161.40,145.81 L161.90,143.97 L162.40,142.17 L162.90,140.40 L163.40,138.67 L163.90,136.97 L164.40,135.29 L164.90,133.64 L165.40,132.00 L165.90,130.38 L166.40,128.76 L166.90,127.16 L167.40,125.56 L167.90,123.95 L168.40,122.35 L168.90,120.74 L169.40,119.14 L169.90,117.53 L170.40,115.94 L170.90,114.35 L171.40,112.77 L171.90,111.20 L172.40,109.65 L172.90,108.11 L173.40,106.59 L173.90,105.09 L174.40,103.61 L174.90,102.16 L175.40,100.73 L175.90,99.33 L176.40,97.96 L176.90,96.63 L177.40,95.32 L177.90,94.04 L178.40,92.80 L178.90,91.58 L179.40,90.39 L179.90,89.23 L180.40,88.09 L180.90,86.99 L181.40,85.91 L181.90,84.85 L182.40,83.82 L182.90,82.81 L183.40,81.83 L183.90,80.87 L184.40,79.94 L184.90,79.03 L185.40,78.13 L185.90,77.26 L186.40,76.41 L186.90,75.58 L187.40,74.77 L187.90,73.98 L188.40,73.21 L188.90,72.46 L189.40,71.72 L189.90,71.00 L190.40,70.29 L190.90,69.60 L191.40,68.93 L191.90,68.27 L192.40,67.62 L192.90,66.99 L193.40,66.37 L193.90,65.77 L194.40,65.17 L194.90,64.59 L195.40,64.01 L195.90,63.45 L196.40,62.90 L196.90,62.35 L197.40,61.82 L197.90,61.29 L198.40,60.77 L198.90,60.26 L199.40,59.76 L199.90,59.27 L200.40,58.78 L200.90,58.30 L201.40,57.83 L201.90,57.37 L202.40,56.92 L202.90,56.48 L203.40,56.04 L203.90,55.61 L204.40,55.18 L204.90,54.77 L205.40,54.36 L205.90,53.96 L206.40,53.56 L206.90,53.17 L207.40,52.79 L207.90,52.42 L208.40,52.05 L208.90,51.69 L209.40,51.33 L209.90,50.99 L210.40,50.64 L210.90,50.31 L211.40,49.97 L211.90,49.65 L212.40,49.33 L212.90,49.02 L213.40,48.71 L213.90,48.40 L214.40,48.11 L214.90,47.81 L215.40,47.52 L215.90,47.24 L216.40,46.96 L216.90,46.69 L217.40,46.42 L217.90,46.16 L218.40,45.90 L218.90,45.64 L219.40,45.39 L219.90,45.14 L220.40,44.90 L220.90,44.66 L221.40,44.43 L221.90,44.20 L222.40,43.97 L222.90,43.75 L223.40,43.53 L223.90,43.31 L224.40,43.10 L224.90,42.89 L225.40,42.69 L225.90,42.49 L226.40,42.29 L226.90,42.10 L227.40,41.91 L227.90,41.72 L228.40,41.54 L228.90,41.36 L229.40,41.18 L229.90,41.01 L230.40,40.84 L230.90,40.68 L231.40,40.51 L231.90,40.35 L232.40,40.20 L232.90,40.04 L233.40,39.89 L233.90,39.75 L234.40,39.60 L234.90,39.46 L235.40,39.32 L235.90,39.19 L236.40,39.05 L236.90,38.92 L237.40,38.79 L237.90,38.67 L238.40,38.55 L238.90,38.43 L239.40,38.31 L239.90,38.20 L240.40,38.08 L240.90,37.97 L241.40,37.87 L241.90,37.76 L242.40,37.66 L242.90,37.56 L243.40,37.46 L243.90,37.36 L244.40,37.27 L244.90,37.18 L245.40,37.09 L245.90,37.00 L246.40,36.92 L246.90,36.83 L247.40,36.75 L247.90,36.67 L248.40,36.59 L248.90,36.52 L249.40,36.44 L249.90,36.37 L250.40,36.30 L250.90,36.23 L251.40,36.16 L251.90,36.09 L252.40,36.03 L252.90,35.96 L253.40,35.90 L253.90,35.84 L254.40,35.78 L254.90,35.72 L255.40,35.66 L255.90,35.61 L256.40,35.55 L256.90,35.50 L257.40,35.45 L257.90,35.39 L258.40,35.34 L258.90,35.29 L259.40,35.24 L259.90,35.20 L260.40,35.15 L260.90,35.10 L261.40,35.06 L261.90,35.01 L262.40,34.97 L262.90,34.92 L263.40,34.88 L263.90,34.84 L264.40,34.80 L264.90,34.75 L265.40,34.71 L265.90,34.67 L266.40,34.63 L266.90,34.59 L267.40,34.55 L267.90,34.51 L268.40,34.47 L268.90,34.43 L269.40,34.40 L269.90,34.36 L270.40,34.32 L270.90,34.28 L271.40,34.25 L271.90,34.21 L272.40,34.17 L272.90,34.14 L273.40,34.10 L273.90,34.07 L274.40,34.03 L274.90,34.00 L275.40,33.97 L275.90,33.93 L276.40,33.90 L276.90,33.87 L277.40,33.83 L277.90,33.80 L278.40,33.77 L278.90,33.74 L279.40,33.71 L279.90,33.68 L280.40,33.65 L280.90,33.62 L281.40,33.59 L281.90,33.56 L282.40,33.53 L282.90,33.50 L283.40,33.47 L283.90,33.44 L284.40,33.42 L284.90,33.39 L285.40,33.36 L285.90,33.34 L286.40,33.31 L286.90,33.28 L287.40,33.26 L287.90,33.23 L288.40,33.21 L288.90,33.18 L289.40,33.16 L289.90,33.13 L290.40,33.11 L290.90,33.09 L291.40,33.06 L291.90,33.04 L292.40,33.02 L292.90,33.00 L293.40,32.97 L293.90,32.95 L294.40,32.93 L294.90,32.91 L295.40,32.89 L295.90,32.87 L296.40,32.85 L296.90,32.83 L297.40,32.81 L297.90,32.79 L298.40,32.77 L298.90,32.75 L299.40,32.73 L299.90,32.72 L300.40,32.70 L300.90,32.68 L301.40,32.66 L301.90,32.65 L302.40,32.63 L302.90,32.61 L303.40,32.60 L303.90,32.58 L304.40,32.56 L304.90,32.55 L305.40,32.53 L305.90,32.52 L306.40,32.50 L306.90,32.49 L307.40,32.47 L307.90,32.46 L308.40,32.45 L308.90,32.43 L309.40,32.42 L309.90,32.41 L310.40,32.39 L310.90,32.38 L311.40,32.37 L311.90,32.36 L312.40,32.35 L312.90,32.35 L313.40,32.35 L313.90,32.35 L314.40,32.35 L314.90,32.35 L315.40,32.35 L315.90,32.35 L316.40,32.35 L316.90,32.35 L317.40,32.35 L317.90,32.35 L318.40,32.35 L318.90,32.35 L319.40,32.35 L319.90,32.35 L320.40,32.35 L320.90,32.35 L321.40,32.35 L321.90,32.35 L322.40,32.35 L322.90,32.35 L323.40,32.35 L323.90,32.35 L324.40,32.35 L324.90,32.35 L325.40,32.35 L325.90,32.35 L326.40,32.35 L326.90,32.35 L327.40,32.35 L327.90,32.35 L328.40,32.35 L328.90,32.35 L329.40,32.35 L329.90,32.35 L330.40,32.35 L330.90,32.35 L331.40,32.35 L331.90,32.35 L332.40,32.35 L332.90,32.35 L333.40,32.35 L333.90,32.35 L334.40,32.35 L334.90,32.35 L335.40,32.35 L335.90,32.35 L336.40,32.35 L336.90,32.35 L337.40,32.35 L337.90,32.35 L338.40,32.35 L338.90,32.35 L339.40,32.35 L339.90,32.35 L340.40,32.35 L340.90,32.35 L341.40,32.35 L341.90,32.35 L342.40,32.35 L342.90,32.35 L343.40,32.35 L343.90,32.35 L344.40,32.35 L344.90,32.35 L345.40,32.35 L345.90,32.35 L346.40,32.35 L346.90,32.35 L347.40,32.35 L347.90,32.35 L348.40,32.35 L348.90,32.35 L349.40,32.35 L349.90,32.35 L350.40,32.35 L350.90,32.35 L351.40,32.35 L351.90,32.35 L352.40,32.35 L352.90,32.35 L353.40,32.35 L353.90,32.35 L354.40,32.35 L354.90,32.35 L355.40,32.35 L355.90,32.35 L356.40,32.35 L356.90,32.35 L357.40,32.35 L357.90,32.35 L358.40,32.35 L358.90,32.35 L359.40,32.35 L359.90,32.35 L360.40,32.35 L360.90,32.35 L361.40,32.35 L361.90,32.35 L362.40,32.35 L362.90,32.35 L363.40,32.35 L363.90,32.35 L364.40,32.35 L364.90,32.35 L365.40,32.35 L365.90,32.35 L366.40,32.35 L366.90,32.35 L367.40,32.35 L367.90,32.35 L368.40,32.35 L368.90,32.35 L369.40,32.35 L369.90,32.35 L370.40,32.35 L370.90,32.35 L371.40,32.35 L371.90,32.35 L372.40,32.35 L372.90,32.35 L373.40,32.35 L373.90,32.35 L374.40,32.35 L374.90,32.35 L375.40,32.35 L375.90,32.35 L376.40,32.35 L376.90,32.35 L377.40,32.35 L377.90,32.35 L378.40,32.35 L378.90,32.35 L379.40,32.35 L379.90,32.35 L380.40,32.35 L380.90,32.35 L381.40,32.35 L381.90,32.35 L382.40,32.35 L382.90,32.35 L383.40,32.35 L383.90,32.35 L384.40,32.35 L384.90,32.35 L385.40,32.35 L385.90,32.35 L386.40,32.35 L386.90,32.35 L387.40,32.35 L387.90,32.35 L388.40,32.35 L388.90,32.35 L389.40,32.35 L389.90,32.35 L390.40,32.35 L390.90,32.35 L391.40,32.35 L391.90,32.35 L392.40,32.35 L392.90,32.35 L393.40,32.35 L393.90,32.35 L394.40,32.35 L394.90,32.35 L395.40,32.35 L395.90,32.35 L396.40,32.35 L396.90,32.35" stroke="#ff0000" stroke-dasharray="2.2 2.3 7.5 2.3"/>
<path d="M52.40,255.95 L52.90,253.60 L53.40,252.34 L53.90,252.06 L54.40,252.64 L54.90,253.95 L55.40,255.90 L55.90,258.33 L56.40,260.83 L56.90,262.89 L57.40,263.98 L57.90,263.68 L58.40,262.16 L58.90,259.90 L59.40,257.34 L59.90,254.92 L60.40,252.76 L60.90,250.85 L61.40,249.19 L61.90,247.75 L62.40,246.55 L62.90,245.57 L63.40,244.79 L63.90,244.22 L64.40,243.84 L64.90,243.65 L65.40,243.64 L65.90,243.80 L66.40,244.11 L66.90,244.58 L67.40,245.20 L67.90,245.95 L68.40,246.82 L68.90,247.80 L69.40,248.87 L69.90,250.00 L70.40,251.19 L70.90,252.41 L71.40,253.63 L71.90,254.86 L72.40,256.06 L72.90,257.26 L73.40,258.50 L73.90,259.81 L74.40,261.22 L74.90,262.63 L75.40,263.81 L75.90,264.51 L76.40,264.51 L76.90,263.68 L77.40,262.22 L77.90,260.36 L78.40,258.33 L78.90,256.31 L79.40,254.32 L79.90,252.38 L80.40,250.48 L80.90,248.64 L81.40,246.87 L81.90,245.19 L82.40,243.62 L82.90,242.18 L83.40,240.88 L83.90,239.74 L84.40,238.78 L84.90,238.01 L85.40,237.44 L85.90,237.10 L86.40,236.99 L86.90,237.12 L87.40,237.52 L87.90,238.19 L88.40,239.12 L88.90,240.30 L89.40,241.69 L89.90,243.29 L90.40,245.05 L90.90,246.96 L91.40,249.00 L91.90,251.15 L92.40,253.32 L92.90,255.33 L93.40,256.94 L93.90,257.92 L94.40,258.08 L94.90,257.52 L95.40,256.47 L95.90,255.17 L96.40,253.84 L96.90,252.55 L97.40,251.30 L97.90,250.06 L98.40,248.84 L98.90,247.61 L99.40,246.37 L99.90,245.10 L100.40,243.82 L100.90,242.54 L101.40,241.25 L101.90,239.97 L102.40,238.70 L102.90,237.45 L103.40,236.23 L103.90,235.05 L104.40,233.90 L104.90,232.80 L105.40,231.75 L105.90,230.77 L106.40,229.85 L106.90,229.01 L107.40,228.25 L107.90,227.58 L108.40,227.00 L108.90,226.50 L109.40,226.10 L109.90,225.79 L110.40,225.56 L110.90,225.44 L111.40,225.40 L111.90,225.46 L112.40,225.61 L112.90,225.86 L113.40,226.20 L113.90,226.64 L114.40,227.17 L114.90,227.81 L115.40,228.53 L115.90,229.34 L116.40,230.23 L116.90,231.19 L117.40,232.21 L117.90,233.28 L118.40,234.41 L118.90,235.57 L119.40,236.77 L119.90,237.99 L120.40,239.23 L120.90,240.48 L121.40,241.73 L121.90,242.98 L122.40,244.21 L122.90,245.43 L123.40,246.59 L123.90,247.67 L124.40,248.62 L124.90,249.38 L125.40,249.92 L125.90,250.18 L126.40,250.12 L126.90,249.70 L127.40,248.92 L127.90,247.87 L128.40,246.64 L128.90,245.29 L129.40,243.94 L129.90,242.64 L130.40,241.45 L130.90,240.34 L131.40,239.26 L131.90,238.19 L132.40,237.09 L132.90,235.94 L133.40,234.69 L133.90,233.32 L134.40,231.97 L134.90,231.18 L135.40,231.25 L135.90,231.77 L136.40,232.26 L136.90,232.29 L137.40,231.81 L137.90,230.93 L138.40,229.78 L138.90,228.47 L139.40,227.13 L139.90,225.86 L140.40,224.72 L140.90,223.67 L141.40,222.70 L141.90,221.79 L142.40,220.91 L142.90,220.05 L143.40,219.17 L143.90,218.29 L144.40,217.41 L144.90,216.52 L145.40,215.64 L145.90,214.77 L146.40,213.91 L146.90,213.07 L147.40,212.25 L147.90,211.46 L148.40,210.70 L148.90,209.98 L149.40,209.30 L149.90,208.66 L150.40,208.08 L150.90,207.54 L151.40,207.07 L151.90,206.66 L152.40,206.32 L152.90,206.05 L153.40,205.86 L153.90,205.75 L154.40,205.72 L154.90,205.78 L155.40,205.91 L155.90,206.12 L156.40,206.39 L156.90,206.72 L157.40,207.11 L157.90,207.55 L158.40,208.03 L158.90,208.55 L159.40,209.11 L159.90,209.69 L160.40,210.30 L160.90,210.93 L161.40,211.56 L161.90,212.21 L162.40,212.85 L162.90,213.50 L163.40,214.13 L163.90,214.76 L164.40,215.38 L164.90,215.99 L165.40,216.59 L165.90,217.18 L166.40,217.75 L166.90,218.30 L167.40,218.84 L167.90,219.37 L168.40,219.87 L168.90,220.35 L169.40,220.81 L169.90,221.25 L170.40,221.66 L170.90,222.05 L171.40,222.41 L171.90,222.74 L172.40,223.04 L172.90,223.31 L173.40,223.55 L173.90,223.76 L174.40,223.93 L174.90,224.06 L175.40,224.16 L175.90,224.21 L176.40,224.21 L176.90,224.15 L177.40,224.01 L177.90,223.80 L178.40,223.49 L178.90,223.08 L179.40,222.57 L179.90,221.93 L180.40,221.17 L180.90,220.29 L181.40,219.34 L181.90,218.33 L182.40,217.31 L182.90,216.30 L183.40,215.34 L183.90,214.42 L184.40,213.54 L184.90,212.70 L185.40,211.88 L185.90,211.09 L186.40,210.30 L186.90,209.53 L187.40,208.76 L187.90,207.98 L188.40,207.19 L188.90,206.38 L189.40,205.54 L189.90,204.68 L190.40,203.77 L190.90,202.82 L191.40,201.84 L191.90,200.82 L192.40,199.77 L192.90,198.68 L193.40,197.56 L193.90,196.42 L194.40,195.24 L194.90,194.03 L195.40,192.80 L195.90,191.54 L196.40,190.27 L196.90,188.97 L197.40,187.64 L197.90,186.30 L198.40,184.95 L198.90,183.57 L199.40,182.19 L199.90,180.79 L200.40,179.38 L200.90,177.95 L201.40,176.52 L201.90,175.09 L202.40,173.64 L202.90,172.19 L203.40,170.74 L203.90,169.29 L204.40,167.84 L204.90,166.39 L205.40,164.94 L205.90,163.50 L206.40,162.06 L206.90,160.63 L207.40,159.21 L207.90,157.80 L208.40,156.39 L208.90,155.00 L209.40,153.61 L209.90,152.22 L210.40,150.85 L210.90,149.48 L211.40,148.12 L211.90,146.77 L212.40,145.43 L212.90,144.10 L213.40,142.77 L213.90,141.45 L214.40,140.14 L214.90,138.84 L215.40,137.54 L215.90,136.25 L216.40,134.97 L216.90,133.70 L217.40,132.44 L217.90,131.18 L218.40,129.93 L218.90,128.69 L219.40,127.46 L219.90,126.23 L220.40,125.01 L220.90,123.80 L221.40,122.60 L221.90,121.41 L222.40,120.22 L222.90,119.04 L223.40,117.87 L223.90,116.71 L224.40,115.55 L224.90,114.41 L225.40,113.27 L225.90,112.13 L226.40,111.01 L226.90,109.89 L227.40,108.79 L227.90,107.68 L228.40,106.59 L228.90,105.51 L229.40,104.43 L229.90,103.36 L230.40,102.31 L230.90,101.26 L231.40,100.22 L231.90,99.19 L232.40,98.17 L232.90,97.16 L233.40,96.16 L233.90,95.17 L234.40,94.19 L234.90,93.23 L235.40,92.27 L235.90,91.32 L236.40,90.39 L236.90,89.47 L237.40,88.56 L237.90,87.66 L238.40,86.77 L238.90,85.89 L239.40,85.03 L239.90,84.17 L240.40,83.33 L240.90,82.51 L241.40,81.69 L241.90,80.89 L242.40,80.10 L242.90,79.32 L243.40,78.56 L243.90,77.80 L244.40,77.06 L244.90,76.33 L245.40,75.61 L245.90,74.91 L246.40,74.21 L246.90,73.53 L247.40,72.85 L247.90,72.19 L248.40,71.54 L248.90,70.90 L249.40,70.27 L249.90,69.65 L250.40,69.04 L250.90,68.44 L251.40,67.85 L251.90,67.27 L252.40,66.69 L252.90,66.13 L253.40,65.58 L253.90,65.03 L254.40,64.50 L254.90,63.97 L255.40,63.45 L255.90,62.94 L256.40,62.44 L256.90,61.95 L257.40,61.46 L257.90,60.98 L258.40,60.51 L258.90,60.05 L259.40,59.59 L259.90,59.14 L260.40,58.70 L260.90,58.26 L261.40,57.83 L261.90,57.41 L262.40,56.99 L262.90,56.58 L263.40,56.17 L263.90,55.78 L264.40,55.38 L264.90,54.99 L265.40,54.61 L265.90,54.23 L266.40,53.86 L266.90,53.49 L267.40,53.13 L267.90,52.77 L268.40,52.42 L268.90,52.07 L269.40,51.72 L269.90,51.38 L270.40,51.05 L270.90,50.71 L271.40,50.39 L271.90,50.06 L272.40,49.74 L272.90,49.43 L273.40,49.12 L273.90,48.81 L274.40,48.51 L274.90,48.21 L275.40,47.92 L275.90,47.63 L276.40,47.34 L276.90,47.06 L277.40,46.78 L277.90,46.51 L278.40,46.24 L278.90,45.97 L279.40,45.71 L279.90,45.45 L280.40,45.20 L280.90,44.95 L281.40,44.70 L281.90,44.46 L282.40,44.22 L282.90,43.98 L283.40,43.75 L283.90,43.52 L284.40,43.30 L284.90,43.07 L285.40,42.86 L285.90,42.64 L286.40,42.43 L286.90,42.22 L287.40,42.02 L287.90,41.82 L288.40,41.62 L288.90,41.42 L289.40,41.23 L289.90,41.04 L290.40,40.86 L290.90,40.68 L291.40,40.50 L291.90,40.32 L292.40,40.15 L292.90,39.98 L293.40,39.81 L293.90,39.65 L294.40,39.49 L294.90,39.33 L295.40,39.17 L295.90,39.02 L296.40,38.87 L296.90,38.72 L297.40,38.58 L297.90,38.44 L298.40,38.30 L298.90,38.16 L299.40,38.03 L299.90,37.90 L300.40,37.77 L300.90,37.64 L301.40,37.52 L301.90,37.40 L302.40,37.28 L302.90,37.17 L303.40,37.05 L303.90,36.94 L304.40,36.83 L304.90,36.72 L305.40,36.62 L305.90,36.52 L306.40,36.42 L306.90,36.32 L307.40,36.22 L307.90,36.13 L308.40,36.04 L308.90,35.95 L309.40,35.86 L309.90,35.77 L310.40,35.69 L310.90,35.61 L311.40,35.53 L311.90,35.45 L312.40,35.37 L312.90,35.30 L313.40,35.22 L313.90,35.15 L314.40,35.08 L314.90,35.01 L315.40,34.95 L315.90,34.88 L316.40,34.82 L316.90,34.75 L317.40,34.69 L317.90,34.64 L318.40,34.58 L318.90,34.52 L319.40,34.47 L319.90,34.41 L320.40,34.36 L320.90,34.31 L321.40,34.26 L321.90,34.21 L322.40,34.16 L322.90,34.12 L323.40,34.07 L323.90,34.03 L324.40,33.98 L324.90,33.94 L325.40,33.90 L325.90,33.86 L326.40,33.82 L326.90,33.78 L327.40,33.75 L327.90,33.71 L328.40,33.67 L328.90,33.64 L329.40,33.61 L329.90,33.57 L330.40,33.54 L330.90,33.51 L331.40,33.48 L331.90,33.44 L332.40,33.42 L332.90,33.39 L333.40,33.36 L333.90,33.33 L334.40,33.30 L334.90,33.28 L335.40,33.25 L335.90,33.23 L336.40,33.20 L336.90,33.18 L337.40,33.15 L337.90,33.13 L338.40,33.11 L338.90,33.09 L339.40,33.07 L339.90,33.05 L340.40,33.03 L340.90,33.01 L341.40,32.99 L341.90,32.97 L342.40,32.96 L342.90,32.94 L343.40,32.92 L343.90,32.91 L344.40,32.89 L344.90,32.88 L345.40,32.86 L345.90,32.85 L346.40,32.83 L346.90,32.82 L347.40,32.81 L347.90,32.80 L348.40,32.79 L348.90,32.77 L349.40,32.76 L349.90,32.75 L350.40,32.74 L350.90,32.73 L351.40,32.72 L351.90,32.71 L352.40,32.71 L352.90,32.70 L353.40,32.69 L353.90,32.68 L354.40,32.68 L354.90,32.67 L355.40,32.66 L355.90,32.66 L356.40,32.65 L356.90,32.64 L357.40,32.64 L357.90,32.63 L358.40,32.63 L358.90,32.62 L359.40,32.62 L359.90,32.61 L360.40,32.61 L360.90,32.61 L361.40,32.60 L361.90,32.60 L362.40,32.60 L362.90,32.59 L363.40,32.59 L363.90,32.59 L364.40,32.58 L364.90,32.58 L365.40,32.58 L365.90,32.58 L366.40,32.57 L366.90,32.57 L367.40,32.57 L367.90,32.57 L368.40,32.57 L368.90,32.56 L369.40,32.56 L369.90,32.56 L370.40,32.56 L370.90,32.56 L371.40,32.55 L371.90,32.55 L372.40,32.55 L372.90,32.55 L373.40,32.55 L373.90,32.54 L374.40,32.54 L374.90,32.54 L375.40,32.54 L375.90,32.54 L376.40,32.53 L376.90,32.53 L377.40,32.53 L377.90,32.53 L378.40,32.52 L378.90,32.52 L379.40,32.52 L379.90,32.52 L380.40,32.51 L380.90,32.51 L381.40,32.51 L381.90,32.50 L382.40,32.50 L382.90,32.49 L383.40,32.49 L383.90,32.48 L384.40,32.48 L384.90,32.48 L385.40,32.47 L385.90,32.46 L386.40,32.46 L386.90,32.45 L387.40,32.45 L387.90,32.44 L388.40,32.43 L388.90,32.43 L389.40,32.42 L389.90,32.41 L390.40,32.40 L390.90,32.39 L391.40,32.38 L391.90,32.38 L392.40,32.37 L392.90,32.36 L393.40,32.35 L393.90,32.35 L394.40,32.35 L394.90,32.35 L395.40,32.35 L395.90,32.35 L396.40,32.35 L396.90,32.35" stroke="#0000ff" stroke-dasharray="7.0 2.4"/>
<path d="M52.40,243.31 L52.90,244.13 L53.40,244.80 L53.90,245.35 L54.40,245.77 L54.90,246.07 L55.40,246.25 L55.90,246.33 L56.40,246.31 L56.90,246.20 L57.40,246.00 L57.90,245.72 L58.40,245.37 L58.90,244.95 L59.40,244.47 L59.90,243.94 L60.40,243.36 L60.90,242.73 L61.40,242.08 L61.90,241.40 L62.40,240.69 L62.90,239.96 L63.40,239.20 L63.90,238.42 L64.40,237.62 L64.90,236.80 L65.40,235.96 L65.90,235.11 L66.40,234.23 L66.90,233.34 L67.40,232.44 L67.90,231.52 L68.40,230.59 L68.90,229.64 L69.40,228.69 L69.90,227.73 L70.40,226.76 L70.90,225.78 L71.40,224.80 L71.90,223.82 L72.40,222.83 L72.90,221.85 L73.40,220.87 L73.90,219.90 L74.40,218.93 L74.90,217.98 L75.40,217.04 L75.90,216.11 L76.40,215.20 L76.90,214.32 L77.40,213.45 L77.90,212.61 L78.40,211.79 L78.90,211.00 L79.40,210.25 L79.90,209.53 L80.40,208.84 L80.90,208.19 L81.40,207.58 L81.90,207.02 L82.40,206.49 L82.90,206.02 L83.40,205.59 L83.90,205.22 L84.40,204.90 L84.90,204.63 L85.40,204.43 L85.90,204.27 L86.40,204.18 L86.90,204.13 L87.40,204.14 L87.90,204.19 L88.40,204.29 L88.90,204.42 L89.40,204.60 L89.90,204.82 L90.40,205.07 L90.90,205.35 L91.40,205.66 L91.90,206.01 L92.40,206.37 L92.90,206.76 L93.40,207.17 L93.90,207.59 L94.40,208.04 L94.90,208.49 L95.40,208.96 L95.90,209.44 L96.40,209.93 L96.90,210.43 L97.40,210.93 L97.90,211.44 L98.40,211.96 L98.90,212.48 L99.40,212.99 L99.90,213.51 L100.40,214.03 L100.90,214.54 L101.40,215.05 L101.90,215.56 L102.40,216.05 L102.90,216.54 L103.40,217.02 L103.90,217.48 L104.40,217.94 L104.90,218.38 L105.40,218.80 L105.90,219.21 L106.40,219.59 L106.90,219.96 L107.40,220.31 L107.90,220.63 L108.40,220.93 L108.90,221.21 L109.40,221.46 L109.90,221.68 L110.40,221.87 L110.90,222.03 L111.40,222.15 L111.90,222.24 L112.40,222.30 L112.90,222.32 L113.40,222.30 L113.90,222.25 L114.40,222.15 L114.90,222.01 L115.40,221.82 L115.90,221.59 L116.40,221.32 L116.90,220.99 L117.40,220.62 L117.90,220.20 L118.40,219.73 L118.90,219.22 L119.40,218.66 L119.90,218.06 L120.40,217.42 L120.90,216.73 L121.40,216.01 L121.90,215.24 L122.40,214.44 L122.90,213.60 L123.40,212.72 L123.90,211.81 L124.40,210.87 L124.90,209.89 L125.40,208.88 L125.90,207.84 L126.40,206.77 L126.90,205.67 L127.40,204.55 L127.90,203.39 L128.40,202.22 L128.90,201.02 L129.40,199.79 L129.90,198.54 L130.40,197.27 L130.90,195.99 L131.40,194.68 L131.90,193.35 L132.40,192.01 L132.90,190.66 L133.40,189.28 L133.90,187.90 L134.40,186.50 L134.90,185.09 L135.40,183.67 L135.90,182.24 L136.40,180.80 L136.90,179.36 L137.40,177.91 L137.90,176.45 L138.40,174.99 L138.90,173.53 L139.40,172.07 L139.90,170.60 L140.40,169.14 L140.90,167.68 L141.40,166.22 L141.90,164.76 L142.40,163.31 L142.90,161.86 L143.40,160.42 L143.90,158.99 L144.40,157.57 L144.90,156.15 L145.40,154.74 L145.90,153.34 L146.40,151.95 L146.90,150.57 L147.40,149.19 L147.90,147.82 L148.40,146.46 L148.90,145.11 L149.40,143.77 L149.90,142.43 L150.40,141.11 L150.90,139.79 L151.40,138.48 L151.90,137.18 L152.40,135.88 L152.90,134.60 L153.40,133.32 L153.90,132.06 L154.40,130.80 L154.90,129.55 L155.40,128.31 L155.90,127.07 L156.40,125.85 L156.90,124.63 L157.40,123.43 L157.90,122.23 L158.40,121.04 L158.90,119.86 L159.40,118.69 L159.90,117.53 L160.40,116.37 L160.90,115.23 L161.40,114.09 L161.90,112.97 L162.40,111.85 L162.90,110.74 L163.40,109.65 L163.90,108.56 L164.40,107.48 L164.90,106.41 L165.40,105.35 L165.90,104.29 L166.40,103.25 L166.90,102.22 L167.40,101.19 L167.90,100.18 L168.40,99.18 L168.90,98.18 L169.40,97.20 L169.90,96.22 L170.40,95.25 L170.90,94.30 L171.40,93.35 L171.90,92.42 L172.40,91.49 L172.90,90.57 L173.40,89.66 L173.90,88.77 L174.40,87.88 L174.90,87.00 L175.40,86.14 L175.90,85.28 L176.40,84.43 L176.90,83.60 L177.40,82.77 L177.90,81.95 L178.40,81.15 L178.90,80.35 L179.40,79.57 L179.90,78.79 L180.40,78.03 L180.90,77.27 L181.40,76.53 L181.90,75.79 L182.40,75.07 L182.90,74.36 L183.40,73.65 L183.90,72.96 L184.40,72.28 L184.90,71.60 L185.40,70.94 L185.90,70.29 L186.40,69.64 L186.90,69.01 L187.40,68.38 L187.90,67.77 L188.40,67.16 L188.90,66.56 L189.40,65.97 L189.90,65.39 L190.40,64.82 L190.90,64.26 L191.40,63.70 L191.90,63.16 L192.40,62.62 L192.90,62.09 L193.40,61.57 L193.90,61.06 L194.40,60.56 L194.90,60.06 L195.40,59.57 L195.90,59.09 L196.40,58.62 L196.90,58.15 L197.40,57.70 L197.90,57.25 L198.40,56.80 L198.90,56.37 L199.40,55.94 L199.90,55.52 L200.40,55.10 L200.90,54.70 L201.40,54.30 L201.90,53.90 L202.40,53.51 L202.90,53.13 L203.40,52.76 L203.90,52.39 L204.40,52.03 L204.90,51.67 L205.40,51.32 L205.90,50.98 L206.40,50.64 L206.90,50.31 L207.40,49.98 L207.90,49.66 L208.40,49.35 L208.90,49.04 L209.40,48.73 L209.90,48.43 L210.40,48.14 L210.90,47.85 L211.40,47.56 L211.90,47.29 L212.40,47.01 L212.90,46.74 L213.40,46.48 L213.90,46.21 L214.40,45.96 L214.90,45.71 L215.40,45.46 L215.90,45.21 L216.40,44.97 L216.90,44.74 L217.40,44.50 L217.90,44.28 L218.40,44.05 L218.90,43.83 L219.40,43.61 L219.90,43.40 L220.40,43.19 L220.90,42.98 L221.40,42.78 L221.90,42.58 L222.40,42.38 L222.90,42.18 L223.40,41.99 L223.90,41.80 L224.40,41.62 L224.90,41.44 L225.40,41.26 L225.90,41.08 L226.40,40.91 L226.90,40.74 L227.40,40.58 L227.90,40.41 L228.40,40.25 L228.90,40.09 L229.40,39.94 L229.90,39.79 L230.40,39.64 L230.90,39.49 L231.40,39.35 L231.90,39.20 L232.40,39.07 L232.90,38.93 L233.40,38.80 L233.90,38.67 L234.40,38.54 L234.90,38.41 L235.40,38.29 L235.90,38.17 L236.40,38.05 L236.90,37.93 L237.40,37.82 L237.90,37.70 L238.40,37.60 L238.90,37.49 L239.40,37.38 L239.90,37.28 L240.40,37.18 L240.90,37.08 L241.40,36.98 L241.90,36.89 L242.40,36.79 L242.90,36.70 L243.40,36.61 L243.90,36.53 L244.40,36.44 L244.90,36.36 L245.40,36.28 L245.90,36.20 L246.40,36.12 L246.90,36.04 L247.40,35.97 L247.90,35.89 L248.40,35.82 L248.90,35.75 L249.40,35.68 L249.90,35.62 L250.40,35.55 L250.90,35.49 L251.40,35.42 L251.90,35.36 L252.40,35.30 L252.90,35.24 L253.40,35.18 L253.90,35.13 L254.40,35.07 L254.90,35.02 L255.40,34.97 L255.90,34.91 L256.40,34.86 L256.90,34.81 L257.40,34.76 L257.90,34.72 L258.40,34.67 L258.90,34.62 L259.40,34.58 L259.90,34.53 L260.40,34.49 L260.90,34.45 L261.40,34.41 L261.90,34.36 L262.40,34.32 L262.90,34.28 L263.40,34.24 L263.90,34.21 L264.40,34.17 L264.90,34.13 L265.40,34.09 L265.90,34.06 L266.40,34.02 L266.90,33.98 L267.40,33.95 L267.90,33.91 L268.40,33.88 L268.90,33.84 L269.40,33.81 L269.90,33.78 L270.40,33.74 L270.90,33.71 L271.40,33.68 L271.90,33.65 L272.40,33.62 L272.90,33.59 L273.40,33.56 L273.90,33.53 L274.40,33.50 L274.90,33.47 L275.40,33.44 L275.90,33.41 L276.40,33.39 L276.90,33.36 L277.40,33.33 L277.90,33.31 L278.40,33.28 L278.90,33.25 L279.40,33.23 L279.90,33.20 L280.40,33.18 L280.90,33.15 L281.40,33.13 L281.90,33.11 L282.40,33.09 L282.90,33.06 L283.40,33.04 L283.90,33.02 L284.40,33.00 L284.90,32.98 L285.40,32.96 L285.90,32.94 L286.40,32.92 L286.90,32.90 L287.40,32.88 L287.90,32.86 L288.40,32.84 L288.90,32.82 L289.40,32.80 L289.90,32.78 L290.40,32.77 L290.90,32.75 L291.40,32.73 L291.90,32.72 L292.40,32.70 L292.90,32.69 L293.40,32.67 L293.90,32.66 L294.40,32.64 L294.90,32.63 L295.40,32.61 L295.90,32.60 L296.40,32.59 L296.90,32.57 L297.40,32.56 L297.90,32.55 L298.40,32.54 L298.90,32.52 L299.40,32.51 L299.90,32.50 L300.40,32.49 L300.90,32.48 L301.40,32.47 L301.90,32.46 L302.40,32.45 L302.90,32.44 L303.40,32.43 L303.90,32.42 L304.40,32.41 L304.90,32.40 L305.40,32.39 L305.90,32.39 L306.40,32.38 L306.90,32.37 L307.40,32.36 L307.90,32.35 L308.40,32.35 L308.90,32.35 L309.40,32.35 L309.90,32.35 L310.40,32.35 L310.90,32.35 L311.40,32.35 L311.90,32.35 L312.40,32.35 L312.90,32.35 L313.40,32.35 L313.90,32.35 L314.40,32.35 L314.90,32.35 L315.40,32.35 L315.90,32.35 L316.40,32.35 L316.90,32.35 L317.40,32.35 L317.90,32.35 L318.40,32.35 L318.90,32.35 L319.40,32.35 L319.90,32.35 L320.40,32.35 L320.90,32.35 L321.40,32.35 L321.90,32.35 L322.40,32.35 L322.90,32.35 L323.40,32.35 L323.90,32.35 L324.40,32.35 L324.90,32.35 L325.40,32.35 L325.90,32.35 L326.40,32.35 L326.90,32.35 L327.40,32.35 L327.90,32.35 L328.40,32.35 L328.90,32.35 L329.40,32.35 L329.90,32.35 L330.40,32.35 L330.90,32.35 L331.40,32.35 L331.90,32.35 L332.40,32.35 L332.90,32.35 L333.40,32.35 L333.90,32.35 L334.40,32.35 L334.90,32.35 L335.40,32.35 L335.90,32.35 L336.40,32.35 L336.90,32.35 L337.40,32.35 L337.90,32.35 L338.40,32.35 L338.90,32.35 L339.40,32.35 L339.90,32.35 L340.40,32.35 L340.90,32.35 L341.40,32.35 L341.90,32.35 L342.40,32.35 L342.90,32.35 L343.40,32.35 L343.90,32.35 L344.40,32.35 L344.90,32.35 L345.40,32.35 L345.90,32.35 L346.40,32.35 L346.90,32.35 L347.40,32.35 L347.90,32.35 L348.40,32.35 L348.90,32.35 L349.40,32.35 L349.90,32.35 L350.40,32.35 L350.90,32.35 L351.40,32.35 L351.90,32.35 L352.40,32.35 L352.90,32.35 L353.40,32.35 L353.90,32.35 L354.40,32.35 L354.90,32.35 L355.40,32.35 L355.90,32.35 L356.40,32.35 L356.90,32.35 L357.40,32.35 L357.90,32.35 L358.40,32.35 L358.90,32.35 L359.40,32.35 L359.90,32.35 L360.40,32.35 L360.90,32.35 L361.40,32.35 L361.90,32.35 L362.40,32.35 L362.90,32.35 L363.40,32.35 L363.90,32.35 L364.40,32.35 L364.90,32.35 L365.40,32.35 L365.90,32.35 L366.40,32.35 L366.90,32.35 L367.40,32.35 L367.90,32.35 L368.40,32.35 L368.90,32.35 L369.40,32.35 L369.90,32.35 L370.40,32.35 L370.90,32.35 L371.40,32.35 L371.90,32.35 L372.40,32.35 L372.90,32.35 L373.40,32.35 L373.90,32.35 L374.40,32.35 L374.90,32.35 L375.40,32.35 L375.90,32.35 L376.40,32.35 L376.90,32.35 L377.40,32.35 L377.90,32.35 L378.40,32.35 L378.90,32.35 L379.40,32.35 L379.90,32.35 L380.40,32.35 L380.90,32.35 L381.40,32.35 L381.90,32.35 L382.40,32.35 L382.90,32.35 L383.40,32.35 L383.90,32.35 L384.40,32.35 L384.90,32.35 L385.40,32.35 L385.90,32.35 L386.40,32.35 L386.90,32.35 L387.40,32.35 L387.90,32.35 L388.40,32.35 L388.90,32.35 L389.40,32.35 L389.90,32.35 L390.40,32.35 L390.90,32.35 L391.40,32.35 L391.90,32.35 L392.40,32.35 L392.90,32.35 L393.40,32.35 L393.90,32.35 L394.40,32.35 L394.90,32.35 L395.40,32.35 L395.90,32.35 L396.40,32.35 L396.90,32.35" stroke="#ff0000" stroke-dasharray="7.0 2.4"/>
<path d="M52.30,234.77 L52.80,233.15 L53.30,232.31 L53.80,232.19 L54.30,232.71 L54.80,233.82 L55.30,235.45 L55.80,237.53 L56.30,240.01 L56.80,242.81 L57.30,245.87 L57.80,249.13 L58.30,252.50 L58.80,255.85 L59.30,259.08 L59.80,262.06 L60.30,264.66 L60.80,266.78 L61.30,268.29 L61.80,269.07 L62.30,269.01 L62.80,268.12 L63.30,266.52 L63.80,264.32 L64.30,261.64 L64.80,258.58 L65.30,255.27 L65.80,251.82 L66.30,248.34 L66.80,244.91 L67.30,241.58 L67.80,238.42 L68.30,235.46 L68.80,232.77 L69.30,230.39 L69.80,228.34 L70.30,226.64 L70.80,225.31 L71.30,224.37 L71.80,223.83 L72.30,223.71 L72.80,224.03 L73.30,224.81 L73.80,226.07 L74.30,227.82 L74.80,230.02 L75.30,232.62 L75.80,235.52 L76.30,238.66 L76.80,241.97 L77.30,245.37 L77.80,248.79 L78.30,252.15 L78.80,255.38 L79.30,258.41 L79.80,261.16 L80.30,263.54 L80.80,265.41 L81.30,266.67 L81.80,267.18 L82.30,266.87 L82.80,265.79 L83.30,264.05 L83.80,261.74 L84.30,258.96 L84.80,255.80 L85.30,252.38 L85.80,248.78 L86.30,245.10 L86.80,241.44 L87.30,237.90 L87.80,234.53 L88.30,231.32 L88.80,228.30 L89.30,225.48 L89.80,222.85 L90.30,220.44 L90.80,218.24 L91.30,216.28 L91.80,214.56 L92.30,213.08 L92.80,211.87 L93.30,210.92 L93.80,210.25 L94.30,209.87 L94.80,209.78 L95.30,210.00 L95.80,210.53 L96.30,211.39 L96.80,212.58 L97.30,214.12 L97.80,216.00 L98.30,218.25 L98.80,220.83 L99.30,223.69 L99.80,226.78 L100.30,230.05 L100.80,233.43 L101.30,236.89 L101.80,240.36 L102.30,243.80 L102.80,247.14 L103.30,250.34 L103.80,253.35 L104.30,256.10 L104.80,258.55 L105.30,260.66 L105.80,262.37 L106.30,263.64 L106.80,264.43 L107.30,264.70 L107.80,264.40 L108.30,263.49 L108.80,261.92 L109.30,259.65 L109.80,256.66 L110.30,253.08 L110.80,249.20 L111.30,245.31 L111.80,241.71 L112.30,238.66 L112.80,236.19 L113.30,234.13 L113.80,232.30 L114.30,230.54 L114.80,228.66 L115.30,226.49 L115.80,223.86 L116.30,220.75 L116.80,217.31 L117.30,213.71 L117.80,210.11 L118.30,206.69 L118.80,203.56 L119.30,200.73 L119.80,198.18 L120.30,195.92 L120.80,193.93 L121.30,192.21 L121.80,190.75 L122.30,189.53 L122.80,188.55 L123.30,187.80 L123.80,187.28 L124.30,186.97 L124.80,186.87 L125.30,186.97 L125.80,187.26 L126.30,187.73 L126.80,188.37 L127.30,189.18 L127.80,190.14 L128.30,191.26 L128.80,192.51 L129.30,193.89 L129.80,195.40 L130.30,197.03 L130.80,198.76 L131.30,200.59 L131.80,202.55 L132.30,204.64 L132.80,206.88 L133.30,209.27 L133.80,211.83 L134.30,214.56 L134.80,217.44 L135.30,220.41 L135.80,223.45 L136.30,226.53 L136.80,229.60 L137.30,232.64 L137.80,235.60 L138.30,238.45 L138.80,241.16 L139.30,243.70 L139.80,246.06 L140.30,248.27 L140.80,250.31 L141.30,252.21 L141.80,253.97 L142.30,255.59 L142.80,257.04 L143.30,258.27 L143.80,259.23 L144.30,259.85 L144.80,260.08 L145.30,259.89 L145.80,259.33 L146.30,258.48 L146.80,257.40 L147.30,256.18 L147.80,254.89 L148.30,253.53 L148.80,252.05 L149.30,250.43 L149.80,248.60 L150.30,246.53 L150.80,244.18 L151.30,241.49 L151.80,238.44 L152.30,235.08 L152.80,231.50 L153.30,227.79 L153.80,224.04 L154.30,220.35 L154.80,216.81 L155.30,213.51 L155.80,210.54 L156.30,207.93 L156.80,205.56 L157.30,203.32 L157.80,201.06 L158.30,198.67 L158.80,196.10 L159.30,193.35 L159.80,190.41 L160.30,187.26 L160.80,183.91 L161.30,180.34 L161.80,176.63 L162.30,172.90 L162.80,169.30 L163.30,165.95 L163.80,162.95 L164.30,160.31 L164.80,157.97 L165.30,155.92 L165.80,154.11 L166.30,152.51 L166.80,151.09 L167.30,149.82 L167.80,148.65 L168.30,147.56 L168.80,146.55 L169.30,145.62 L169.80,144.77 L170.30,144.00 L170.80,143.31 L171.30,142.69 L171.80,142.14 L172.30,141.68 L172.80,141.28 L173.30,140.97 L173.80,140.72 L174.30,140.55 L174.80,140.45 L175.30,140.42 L175.80,140.46 L176.30,140.57 L176.80,140.75 L177.30,141.00 L177.80,141.32 L178.30,141.71 L178.80,142.16 L179.30,142.68 L179.80,143.27 L180.30,143.92 L180.80,144.64 L181.30,145.43 L181.80,146.29 L182.30,147.24 L182.80,148.27 L183.30,149.39 L183.80,150.61 L184.30,151.93 L184.80,153.35 L185.30,154.88 L185.80,156.51 L186.30,158.21 L186.80,159.95 L187.30,161.70 L187.80,163.44 L188.30,165.13 L188.80,166.75 L189.30,168.28 L189.80,169.74 L190.30,171.19 L190.80,172.70 L191.30,174.34 L191.80,176.17 L192.30,178.22 L192.80,180.44 L193.30,182.80 L193.80,185.27 L194.30,187.79 L194.80,190.35 L195.30,192.89 L195.80,195.38 L196.30,197.79 L196.80,200.10 L197.30,202.30 L197.80,204.40 L198.30,206.37 L198.80,208.22 L199.30,209.93 L199.80,211.53 L200.30,213.05 L200.80,214.54 L201.30,216.04 L201.80,217.58 L202.30,219.21 L202.80,220.96 L203.30,222.77 L203.80,224.58 L204.30,226.34 L204.80,227.98 L205.30,229.44 L205.80,230.69 L206.30,231.71 L206.80,232.53 L207.30,233.16 L207.80,233.61 L208.30,233.90 L208.80,234.03 L209.30,234.01 L209.80,233.87 L210.30,233.60 L210.80,233.23 L211.30,232.76 L211.80,232.19 L212.30,231.47 L212.80,230.52 L213.30,229.30 L213.80,227.77 L214.30,225.94 L214.80,223.88 L215.30,221.61 L215.80,219.20 L216.30,216.66 L216.80,214.02 L217.30,211.30 L217.80,208.51 L218.30,205.67 L218.80,202.80 L219.30,199.91 L219.80,197.02 L220.30,194.16 L220.80,191.32 L221.30,188.54 L221.80,185.83 L222.30,183.21 L222.80,180.67 L223.30,178.20 L223.80,175.80 L224.30,173.44 L224.80,171.11 L225.30,168.80 L225.80,166.50 L226.30,164.19 L226.80,161.86 L227.30,159.50 L227.80,157.10 L228.30,154.66 L228.80,152.19 L229.30,149.70 L229.80,147.19 L230.30,144.66 L230.80,142.12 L231.30,139.58 L231.80,137.04 L232.30,134.49 L232.80,131.96 L233.30,129.44 L233.80,126.94 L234.30,124.46 L234.80,122.01 L235.30,119.59 L235.80,117.21 L236.30,114.87 L236.80,112.57 L237.30,110.33 L237.80,108.15 L238.30,106.02 L238.80,103.95 L239.30,101.93 L239.80,99.97 L240.30,98.07 L240.80,96.21 L241.30,94.41 L241.80,92.66 L242.30,90.96 L242.80,89.31 L243.30,87.70 L243.80,86.15 L244.30,84.63 L244.80,83.17 L245.30,81.75 L245.80,80.37 L246.30,79.03 L246.80,77.74 L247.30,76.48 L247.80,75.27 L248.30,74.09 L248.80,72.95 L249.30,71.85 L249.80,70.78 L250.30,69.75 L250.80,68.75 L251.30,67.78 L251.80,66.85 L252.30,65.95 L252.80,65.07 L253.30,64.22 L253.80,63.41 L254.30,62.62 L254.80,61.85 L255.30,61.11 L255.80,60.39 L256.30,59.70 L256.80,59.03 L257.30,58.38 L257.80,57.75 L258.30,57.13 L258.80,56.54 L259.30,55.96 L259.80,55.40 L260.30,54.86 L260.80,54.33 L261.30,53.81 L261.80,53.30 L262.30,52.81 L262.80,52.33 L263.30,51.85 L263.80,51.39 L264.30,50.93 L264.80,50.49 L265.30,50.05 L265.80,49.63 L266.30,49.21 L266.80,48.80 L267.30,48.40 L267.80,48.01 L268.30,47.62 L268.80,47.25 L269.30,46.88 L269.80,46.52 L270.30,46.17 L270.80,45.83 L271.30,45.50 L271.80,45.17 L272.30,44.85 L272.80,44.54 L273.30,44.23 L273.80,43.94 L274.30,43.65 L274.80,43.36 L275.30,43.09 L275.80,42.82 L276.30,42.55 L276.80,42.29 L277.30,42.04 L277.80,41.80 L278.30,41.56 L278.80,41.33 L279.30,41.10 L279.80,40.88 L280.30,40.66 L280.80,40.45 L281.30,40.25 L281.80,40.05 L282.30,39.85 L282.80,39.66 L283.30,39.48 L283.80,39.30 L284.30,39.12 L284.80,38.95 L285.30,38.78 L285.80,38.62 L286.30,38.46 L286.80,38.31 L287.30,38.15 L287.80,38.01 L288.30,37.86 L288.80,37.72 L289.30,37.59 L289.80,37.45 L290.30,37.32 L290.80,37.19 L291.30,37.07 L291.80,36.95 L292.30,36.83 L292.80,36.71 L293.30,36.59 L293.80,36.48 L294.30,36.37 L294.80,36.26 L295.30,36.15 L295.80,36.05 L296.30,35.95 L296.80,35.84 L297.30,35.74 L297.80,35.65 L298.30,35.55 L298.80,35.45 L299.30,35.36 L299.80,35.27 L300.30,35.18 L300.80,35.09 L301.30,35.01 L301.80,34.92 L302.30,34.84 L302.80,34.76 L303.30,34.68 L303.80,34.60 L304.30,34.52 L304.80,34.45 L305.30,34.37 L305.80,34.30 L306.30,34.23 L306.80,34.16 L307.30,34.09 L307.80,34.02 L308.30,33.96 L308.80,33.90 L309.30,33.83 L309.80,33.77 L310.30,33.71 L310.80,33.66 L311.30,33.60 L311.80,33.54 L312.30,33.49 L312.80,33.44 L313.30,33.38 L313.80,33.33 L314.30,33.29 L314.80,33.24 L315.30,33.19 L315.80,33.15 L316.30,33.10 L316.80,33.06 L317.30,33.02 L317.80,32.98 L318.30,32.94 L318.80,32.90 L319.30,32.86 L319.80,32.83 L320.30,32.79 L320.80,32.76 L321.30,32.73 L321.80,32.70 L322.30,32.67 L322.80,32.64 L323.30,32.61 L323.80,32.58 L324.30,32.56 L324.80,32.53 L325.30,32.51 L325.80,32.48 L326.30,32.46 L326.80,32.44 L327.30,32.42 L327.80,32.40 L328.30,32.38 L328.80,32.36 L329.30,32.35 L329.80,32.35 L330.30,32.35 L330.80,32.35 L331.30,32.35 L331.80,32.35 L332.30,32.35 L332.80,32.35 L333.30,32.35 L333.80,32.35 L334.30,32.35 L334.80,32.35 L335.30,32.35 L335.80,32.35 L336.30,32.35 L336.80,32.35 L337.30,32.35 L337.80,32.35 L338.30,32.35 L338.80,32.35 L339.30,32.35 L339.80,32.35 L340.30,32.35 L340.80,32.35 L341.30,32.35 L341.80,32.35 L342.30,32.35 L342.80,32.35 L343.30,32.35 L343.80,32.35 L344.30,32.35 L344.80,32.35 L345.30,32.35 L345.80,32.35 L346.30,32.35 L346.80,32.35 L347.30,32.35 L347.80,32.35 L348.30,32.35 L348.80,32.35 L349.30,32.35 L349.80,32.35 L350.30,32.35 L350.80,32.35 L351.30,32.35 L351.80,32.35 L352.30,32.35 L352.80,32.35 L353.30,32.35 L353.80,32.35 L354.30,32.35 L354.80,32.35 L355.30,32.35 L355.80,32.35 L356.30,32.35 L356.80,32.35 L357.30,32.35 L357.80,32.35 L358.30,32.35 L358.80,32.35 L359.30,32.35 L359.80,32.35 L360.30,32.35 L360.80,32.35 L361.30,32.35 L361.80,32.35 L362.30,32.35 L362.80,32.35 L363.30,32.35 L363.80,32.35 L364.30,32.35 L364.80,32.35 L365.30,32.35 L365.80,32.35 L366.30,32.35 L366.80,32.35 L367.30,32.35 L367.80,32.35 L368.30,32.35 L368.80,32.35 L369.30,32.35 L369.80,32.35 L370.30,32.35 L370.80,32.35 L371.30,32.35 L371.80,32.35 L372.30,32.35 L372.80,32.35 L373.30,32.35 L373.80,32.35 L374.30,32.35 L374.80,32.35 L375.30,32.35 L375.80,32.35 L376.30,32.35 L376.80,32.35 L377.30,32.35 L377.80,32.35 L378.30,32.35 L378.80,32.35 L379.30,32.35 L379.80,32.35 L380.30,32.35 L380.80,32.35 L381.30,32.35 L381.80,32.35 L382.30,32.35 L382.80,32.35 L383.30,32.35 L383.80,32.35 L384.30,32.35 L384.80,32.35 L385.30,32.35 L385.80,32.35 L386.30,32.35 L386.80,32.35 L387.30,32.35 L387.80,32.35 L388.30,32.35 L388.80,32.35 L389.30,32.35 L389.80,32.35 L390.30,32.35 L390.80,32.35 L391.30,32.35 L391.80,32.35 L392.30,32.35 L392.80,32.35 L393.30,32.35 L393.80,32.35 L394.30,32.35 L394.80,32.35 L395.30,32.35 L395.80,32.35 L396.30,32.35 L396.80,32.35" stroke="#0000ff"/>
<path d="M52.00,181.30 L52.50,180.79 L53.00,180.45 L53.50,180.27 L54.00,180.26 L54.50,180.39 L55.00,180.67 L55.50,181.09 L56.00,181.64 L56.50,182.31 L57.00,183.09 L57.50,183.99 L58.00,184.98 L58.50,186.07 L59.00,187.24 L59.50,188.49 L60.00,189.82 L60.50,191.21 L61.00,192.65 L61.50,194.15 L62.00,195.69 L62.50,197.27 L63.00,198.87 L63.50,200.50 L64.00,202.15 L64.50,203.82 L65.00,205.53 L65.50,207.27 L66.00,209.05 L66.50,210.87 L67.00,212.73 L67.50,214.65 L68.00,216.61 L68.50,218.63 L69.00,220.71 L69.50,222.86 L70.00,225.07 L70.50,227.34 L71.00,229.66 L71.50,232.02 L72.00,234.39 L72.50,236.75 L73.00,239.09 L73.50,241.38 L74.00,243.62 L74.50,245.79 L75.00,247.86 L75.50,249.82 L76.00,251.64 L76.50,253.33 L77.00,254.84 L77.50,256.17 L78.00,257.27 L78.50,258.10 L79.00,258.62 L79.50,258.78 L80.00,258.56 L80.50,257.99 L81.00,257.11 L81.50,255.96 L82.00,254.57 L82.50,252.98 L83.00,251.25 L83.50,249.41 L84.00,247.48 L84.50,245.46 L85.00,243.33 L85.50,241.10 L86.00,238.77 L86.50,236.34 L87.00,233.80 L87.50,231.17 L88.00,228.46 L88.50,225.67 L89.00,222.82 L89.50,219.91 L90.00,216.95 L90.50,213.96 L91.00,210.93 L91.50,207.89 L92.00,204.83 L92.50,201.78 L93.00,198.73 L93.50,195.71 L94.00,192.70 L94.50,189.74 L95.00,186.82 L95.50,183.95 L96.00,181.15 L96.50,178.42 L97.00,175.78 L97.50,173.22 L98.00,170.77 L98.50,168.41 L99.00,166.16 L99.50,164.01 L100.00,161.96 L100.50,160.00 L101.00,158.14 L101.50,156.38 L102.00,154.71 L102.50,153.14 L103.00,151.66 L103.50,150.28 L104.00,148.98 L104.50,147.78 L105.00,146.66 L105.50,145.64 L106.00,144.70 L106.50,143.85 L107.00,143.08 L107.50,142.40 L108.00,141.80 L108.50,141.28 L109.00,140.85 L109.50,140.50 L110.00,140.23 L110.50,140.03 L111.00,139.92 L111.50,139.88 L112.00,139.92 L112.50,140.03 L113.00,140.22 L113.50,140.48 L114.00,140.81 L114.50,141.21 L115.00,141.69 L115.50,142.23 L116.00,142.85 L116.50,143.53 L117.00,144.27 L117.50,145.09 L118.00,145.96 L118.50,146.90 L119.00,147.91 L119.50,148.97 L120.00,150.10 L120.50,151.29 L121.00,152.53 L121.50,153.84 L122.00,155.20 L122.50,156.61 L123.00,158.08 L123.50,159.61 L124.00,161.19 L124.50,162.82 L125.00,164.50 L125.50,166.24 L126.00,168.02 L126.50,169.85 L127.00,171.72 L127.50,173.64 L128.00,175.59 L128.50,177.58 L129.00,179.60 L129.50,181.65 L130.00,183.73 L130.50,185.82 L131.00,187.94 L131.50,190.08 L132.00,192.23 L132.50,194.39 L133.00,196.55 L133.50,198.72 L134.00,200.90 L134.50,203.07 L135.00,205.24 L135.50,207.40 L136.00,209.54 L136.50,211.68 L137.00,213.79 L137.50,215.87 L138.00,217.90 L138.50,219.87 L139.00,221.78 L139.50,223.59 L140.00,225.32 L140.50,226.93 L141.00,228.43 L141.50,229.79 L142.00,231.01 L142.50,232.07 L143.00,232.96 L143.50,233.67 L144.00,234.19 L144.50,234.50 L145.00,234.59 L145.50,234.46 L146.00,234.10 L146.50,233.55 L147.00,232.82 L147.50,231.93 L148.00,230.89 L148.50,229.73 L149.00,228.46 L149.50,227.10 L150.00,225.68 L150.50,224.20 L151.00,222.69 L151.50,221.13 L152.00,219.52 L152.50,217.85 L153.00,216.10 L153.50,214.27 L154.00,212.34 L154.50,210.31 L155.00,208.16 L155.50,205.89 L156.00,203.48 L156.50,200.92 L157.00,198.20 L157.50,195.34 L158.00,192.36 L158.50,189.28 L159.00,186.11 L159.50,182.89 L160.00,179.63 L160.50,176.36 L161.00,173.09 L161.50,169.84 L162.00,166.64 L162.50,163.50 L163.00,160.43 L163.50,157.43 L164.00,154.49 L164.50,151.61 L165.00,148.79 L165.50,146.03 L166.00,143.33 L166.50,140.69 L167.00,138.10 L167.50,135.57 L168.00,133.08 L168.50,130.65 L169.00,128.27 L169.50,125.94 L170.00,123.65 L170.50,121.41 L171.00,119.22 L171.50,117.07 L172.00,114.96 L172.50,112.90 L173.00,110.88 L173.50,108.90 L174.00,106.97 L174.50,105.08 L175.00,103.23 L175.50,101.41 L176.00,99.64 L176.50,97.91 L177.00,96.22 L177.50,94.56 L178.00,92.94 L178.50,91.36 L179.00,89.82 L179.50,88.31 L180.00,86.84 L180.50,85.40 L181.00,84.00 L181.50,82.63 L182.00,81.30 L182.50,79.99 L183.00,78.72 L183.50,77.48 L184.00,76.27 L184.50,75.10 L185.00,73.95 L185.50,72.83 L186.00,71.74 L186.50,70.68 L187.00,69.65 L187.50,68.64 L188.00,67.67 L188.50,66.71 L189.00,65.79 L189.50,64.88 L190.00,64.01 L190.50,63.15 L191.00,62.32 L191.50,61.52 L192.00,60.73 L192.50,59.97 L193.00,59.23 L193.50,58.51 L194.00,57.81 L194.50,57.13 L195.00,56.47 L195.50,55.82 L196.00,55.20 L196.50,54.59 L197.00,54.00 L197.50,53.43 L198.00,52.87 L198.50,52.33 L199.00,51.80 L199.50,51.28 L200.00,50.78 L200.50,50.30 L201.00,49.82 L201.50,49.36 L202.00,48.91 L202.50,48.47 L203.00,48.04 L203.50,47.63 L204.00,47.22 L204.50,46.83 L205.00,46.45 L205.50,46.08 L206.00,45.72 L206.50,45.36 L207.00,45.02 L207.50,44.69 L208.00,44.37 L208.50,44.06 L209.00,43.76 L209.50,43.46 L210.00,43.18 L210.50,42.90 L211.00,42.63 L211.50,42.38 L212.00,42.12 L212.50,41.88 L213.00,41.64 L213.50,41.41 L214.00,41.19 L214.50,40.98 L215.00,40.77 L215.50,40.57 L216.00,40.37 L216.50,40.18 L217.00,40.00 L217.50,39.82 L218.00,39.65 L218.50,39.48 L219.00,39.32 L219.50,39.16 L220.00,39.01 L220.50,38.86 L221.00,38.71 L221.50,38.57 L222.00,38.44 L222.50,38.30 L223.00,38.17 L223.50,38.05 L224.00,37.92 L224.50,37.80 L225.00,37.68 L225.50,37.57 L226.00,37.45 L226.50,37.34 L227.00,37.23 L227.50,37.13 L228.00,37.02 L228.50,36.92 L229.00,36.82 L229.50,36.72 L230.00,36.62 L230.50,36.53 L231.00,36.43 L231.50,36.34 L232.00,36.25 L232.50,36.17 L233.00,36.08 L233.50,36.00 L234.00,35.92 L234.50,35.84 L235.00,35.76 L235.50,35.68 L236.00,35.61 L236.50,35.54 L237.00,35.46 L237.50,35.40 L238.00,35.33 L238.50,35.26 L239.00,35.20 L239.50,35.13 L240.00,35.07 L240.50,35.01 L241.00,34.95 L241.50,34.89 L242.00,34.84 L242.50,34.78 L243.00,34.73 L243.50,34.68 L244.00,34.63 L244.50,34.58 L245.00,34.53 L245.50,34.48 L246.00,34.44 L246.50,34.39 L247.00,34.35 L247.50,34.31 L248.00,34.26 L248.50,34.22 L249.00,34.18 L249.50,34.15 L250.00,34.11 L250.50,34.07 L251.00,34.04 L251.50,34.00 L252.00,33.97 L252.50,33.93 L253.00,33.90 L253.50,33.87 L254.00,33.84 L254.50,33.81 L255.00,33.78 L255.50,33.75 L256.00,33.72 L256.50,33.69 L257.00,33.67 L257.50,33.64 L258.00,33.62 L258.50,33.59 L259.00,33.57 L259.50,33.54 L260.00,33.52 L260.50,33.49 L261.00,33.47 L261.50,33.45 L262.00,33.42 L262.50,33.40 L263.00,33.38 L263.50,33.36 L264.00,33.34 L264.50,33.31 L265.00,33.29 L265.50,33.27 L266.00,33.25 L266.50,33.23 L267.00,33.21 L267.50,33.19 L268.00,33.17 L268.50,33.15 L269.00,33.13 L269.50,33.12 L270.00,33.10 L270.50,33.08 L271.00,33.06 L271.50,33.04 L272.00,33.03 L272.50,33.01 L273.00,32.99 L273.50,32.97 L274.00,32.96 L274.50,32.94 L275.00,32.93 L275.50,32.91 L276.00,32.89 L276.50,32.88 L277.00,32.86 L277.50,32.85 L278.00,32.83 L278.50,32.82 L279.00,32.81 L279.50,32.79 L280.00,32.78 L280.50,32.77 L281.00,32.75 L281.50,32.74 L282.00,32.73 L282.50,32.71 L283.00,32.70 L283.50,32.69 L284.00,32.68 L284.50,32.67 L285.00,32.65 L285.50,32.64 L286.00,32.63 L286.50,32.62 L287.00,32.61 L287.50,32.60 L288.00,32.59 L288.50,32.58 L289.00,32.57 L289.50,32.56 L290.00,32.55 L290.50,32.54 L291.00,32.53 L291.50,32.52 L292.00,32.51 L292.50,32.51 L293.00,32.50 L293.50,32.49 L294.00,32.48 L294.50,32.47 L295.00,32.47 L295.50,32.46 L296.00,32.45 L296.50,32.44 L297.00,32.44 L297.50,32.43 L298.00,32.42 L298.50,32.42 L299.00,32.41 L299.50,32.40 L300.00,32.40 L300.50,32.39 L301.00,32.39 L301.50,32.38 L302.00,32.38 L302.50,32.37 L303.00,32.36 L303.50,32.36 L304.00,32.36 L304.50,32.35 L305.00,32.35 L305.50,32.35 L306.00,32.35 L306.50,32.35 L307.00,32.35 L307.50,32.35 L308.00,32.35 L308.50,32.35 L309.00,32.35 L309.50,32.35 L310.00,32.35 L310.50,32.35 L311.00,32.35 L311.50,32.35 L312.00,32.35 L312.50,32.35 L313.00,32.35 L313.50,32.35 L314.00,32.35 L314.50,32.35 L315.00,32.35 L315.50,32.35 L316.00,32.35 L316.50,32.35 L317.00,32.35 L317.50,32.35 L318.00,32.35 L318.50,32.35 L319.00,32.35 L319.50,32.35 L320.00,32.35 L320.50,32.35 L321.00,32.35 L321.50,32.35 L322.00,32.35 L322.50,32.35 L323.00,32.35 L323.50,32.35 L324.00,32.35 L324.50,32.35 L325.00,32.35 L325.50,32.35 L326.00,32.35 L326.50,32.35 L327.00,32.35 L327.50,32.35 L328.00,32.35 L328.50,32.35 L329.00,32.35 L329.50,32.35 L330.00,32.35 L330.50,32.35 L331.00,32.35 L331.50,32.35 L332.00,32.35 L332.50,32.35 L333.00,32.35 L333.50,32.35 L334.00,32.35 L334.50,32.35 L335.00,32.35 L335.50,32.35 L336.00,32.35 L336.50,32.35 L337.00,32.35 L337.50,32.35 L338.00,32.35 L338.50,32.35 L339.00,32.35 L339.50,32.35 L340.00,32.35 L340.50,32.35 L341.00,32.35 L341.50,32.35 L342.00,32.35 L342.50,32.35 L343.00,32.35 L343.50,32.35 L344.00,32.35 L344.50,32.35 L345.00,32.35 L345.50,32.35 L346.00,32.35 L346.50,32.35 L347.00,32.35 L347.50,32.35 L348.00,32.35 L348.50,32.35 L349.00,32.35 L349.50,32.35 L350.00,32.35 L350.50,32.35 L351.00,32.35 L351.50,32.35 L352.00,32.35 L352.50,32.35 L353.00,32.35 L353.50,32.35 L354.00,32.35 L354.50,32.35 L355.00,32.35 L355.50,32.35 L356.00,32.35 L356.50,32.35 L357.00,32.35 L357.50,32.35 L358.00,32.35 L358.50,32.35 L359.00,32.35 L359.50,32.35 L360.00,32.35 L360.50,32.35 L361.00,32.35 L361.50,32.35 L362.00,32.35 L362.50,32.35 L363.00,32.35 L363.50,32.35 L364.00,32.35 L364.50,32.35 L365.00,32.35 L365.50,32.35 L366.00,32.35 L366.50,32.35 L367.00,32.35 L367.50,32.35 L368.00,32.35 L368.50,32.35 L369.00,32.35 L369.50,32.35 L370.00,32.35 L370.50,32.35 L371.00,32.35 L371.50,32.35 L372.00,32.35 L372.50,32.35 L373.00,32.35 L373.50,32.35 L374.00,32.35 L374.50,32.35 L375.00,32.35 L375.50,32.35 L376.00,32.35 L376.50,32.35 L377.00,32.35 L377.50,32.35 L378.00,32.35 L378.50,32.35 L379.00,32.35 L379.50,32.35 L380.00,32.35 L380.50,32.35 L381.00,32.35 L381.50,32.35 L382.00,32.35 L382.50,32.35 L383.00,32.35 L383.50,32.35 L384.00,32.35 L384.50,32.35 L385.00,32.35 L385.50,32.35 L386.00,32.35 L386.50,32.35 L387.00,32.35 L387.50,32.35 L388.00,32.35 L388.50,32.35 L389.00,32.35 L389.50,32.35 L390.00,32.35 L390.50,32.35 L391.00,32.35 L391.50,32.35 L392.00,32.35 L392.50,32.35 L393.00,32.35 L393.50,32.35 L394.00,32.35 L394.50,32.35 L395.00,32.35 L395.50,32.35 L396.00,32.35 L396.50,32.35 L397.00,32.35" stroke="#ff0000"/>
</g>
<g stroke="#000" stroke-width="1.25" fill="none">
<rect x="43.55" y="20.10" width="353.35" height="265.10"/>
</g>
<path d="M43.55,273.50 h4.30 M396.90,273.50 h-4.30 M43.55,261.44 h2.70 M396.90,261.44 h-2.70 M43.55,249.38 h2.70 M396.90,249.38 h-2.70 M43.55,237.33 h2.70 M396.90,237.33 h-2.70 M43.55,225.27 h4.30 M396.90,225.27 h-4.30 M43.55,213.21 h2.70 M396.90,213.21 h-2.70 M43.55,201.15 h2.70 M396.90,201.15 h-2.70 M43.55,189.10 h2.70 M396.90,189.10 h-2.70 M43.55,177.04 h4.30 M396.90,177.04 h-4.30 M43.55,164.98 h2.70 M396.90,164.98 h-2.70 M43.55,152.93 h2.70 M396.90,152.93 h-2.70 M43.55,140.87 h2.70 M396.90,140.87 h-2.70 M43.55,128.81 h4.30 M396.90,128.81 h-4.30 M43.55,116.75 h2.70 M396.90,116.75 h-2.70 M43.55,104.69 h2.70 M396.90,104.69 h-2.70 M43.55,92.64 h2.70 M396.90,92.64 h-2.70 M43.55,80.58 h4.30 M396.90,80.58 h-4.30 M43.55,68.52 h2.70 M396.90,68.52 h-2.70 M43.55,56.47 h2.70 M396.90,56.47 h-2.70 M43.55,44.41 h2.70 M396.90,44.41 h-2.70 M43.55,32.35 h4.30 M396.90,32.35 h-4.30 M43.55,20.29 h2.70 M396.90,20.29 h-2.70 M52.40,20.10 v4.70 M72.62,20.10 v3.00 M92.84,20.10 v3.00 M113.06,20.10 v3.00 M133.28,20.10 v4.70 M153.50,20.10 v3.00 M173.72,20.10 v3.00 M193.95,20.10 v3.00 M214.17,20.10 v4.70 M234.39,20.10 v3.00 M254.61,20.10 v3.00 M274.83,20.10 v3.00 M295.05,20.10 v4.70 M315.27,20.10 v3.00 M335.49,20.10 v3.00 M355.71,20.10 v3.00 M375.93,20.10 v4.70 M396.15,20.10 v3.00" stroke="#000" stroke-width="1" fill="none"/>
<path d="M48.14,285.20 v-1.90 M52.40,285.20 v-2.90 M80.43,285.20 v-1.90 M96.83,285.20 v-1.90 M108.46,285.20 v-1.90 M117.49,285.20 v-1.90 M124.86,285.20 v-1.90 M131.10,285.20 v-1.90 M136.50,285.20 v-1.90 M141.26,285.20 v-1.90 M145.52,285.20 v-2.90 M173.55,285.20 v-1.90 M189.95,285.20 v-1.90 M201.58,285.20 v-1.90 M210.61,285.20 v-1.90 M217.98,285.20 v-1.90 M224.22,285.20 v-1.90 M229.62,285.20 v-1.90 M234.38,285.20 v-1.90 M238.64,285.20 v-2.90 M266.67,285.20 v-1.90 M283.07,285.20 v-1.90 M294.70,285.20 v-1.90 M303.73,285.20 v-1.90 M311.10,285.20 v-1.90 M317.34,285.20 v-1.90 M322.74,285.20 v-1.90 M327.50,285.20 v-1.90 M331.76,285.20 v-2.90 M359.79,285.20 v-1.90 M376.19,285.20 v-1.90 M387.82,285.20 v-1.90 M396.85,285.20 v-1.90" stroke="#888" stroke-width="0.5" fill="none"/>
<g font-family="'Liberation Sans', sans-serif" font-size="14.5" fill="#111" stroke="#111" stroke-width="0.22" paint-order="stroke">
<text x="40.6" y="278.30" text-anchor="end">0.0</text>
<text x="40.6" y="230.07" text-anchor="end">0.2</text>
<text x="40.6" y="181.84" text-anchor="end">0.4</text>
<text x="40.6" y="133.61" text-anchor="end">0.6</text>
<text x="40.6" y="85.38" text-anchor="end">0.8</text>
<text x="40.6" y="37.15" text-anchor="end">1.0</text>
<text x="52.40" y="301.4" text-anchor="middle">1</text>
<text x="145.52" y="301.4" text-anchor="middle">10</text>
<text x="238.64" y="301.4" text-anchor="middle">100</text>
<text x="331.76" y="301.4" text-anchor="middle">1000</text>
<text x="220" y="324.2" text-anchor="middle">Ocean thickness [m]</text>
<text transform="translate(11.4,152.7) rotate(-90)" text-anchor="middle" font-size="14.5">Energy concentration factor <tspan font-style="italic">C</tspan><tspan font-size="10" dy="3">mX</tspan><tspan dy="-3">(3)</tspan></text>
<text x="29" y="11" font-weight="bold" font-size="14">A</text>
<text x="111.4" y="85.8" fill="#ff0000" stroke="#ff0000">d=2.5 km</text>
<text x="259.2" y="85.8" fill="#0000ff" stroke="#0000ff">d=0 km</text>
<path d="M294,181.70 H332.9" stroke="#ff0000" stroke-width="1.7" fill="none" stroke-dasharray="2.6 2.55"/>
<path d="M294,188.95 H332.9" stroke="#0000ff" stroke-width="1.7" fill="none" stroke-dasharray="2.6 2.55"/>
<text x="360.2" y="189.80" text-anchor="middle">(0,X)</text>
<path d="M294,205.78 H332.9" stroke="#ff0000" stroke-width="1.7" fill="none" stroke-dasharray="2.6 2.45 5.9 2.5"/>
<path d="M294,213.03 H332.9" stroke="#0000ff" stroke-width="1.7" fill="none" stroke-dasharray="2.6 2.45 5.9 2.5"/>
<text x="360.2" y="213.70" text-anchor="middle">(1,E)</text>
<path d="M294,229.86 H332.9" stroke="#ff0000" stroke-width="1.7" fill="none" stroke-dasharray="5.8 2.55"/>
<path d="M294,237.11 H332.9" stroke="#0000ff" stroke-width="1.7" fill="none" stroke-dasharray="5.8 2.55"/>
<text x="360.2" y="237.60" text-anchor="middle">(2,W)</text>
<path d="M294,253.94 H332.9" stroke="#ff0000" stroke-width="1.7" fill="none"/>
<path d="M294,261.19 H332.9" stroke="#0000ff" stroke-width="1.7" fill="none"/>
<text x="360.2" y="261.50" text-anchor="middle">(2,E)</text>
</g>
</svg>
</body></html>
